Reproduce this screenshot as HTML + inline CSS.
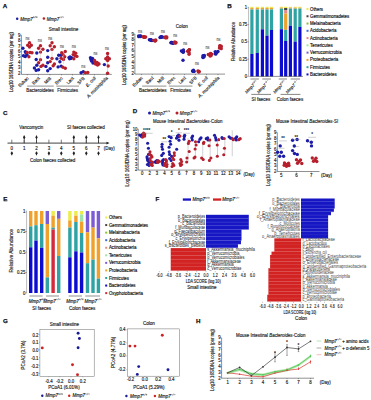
<!DOCTYPE html>
<html><head><meta charset="utf-8"><title>figure</title><style>
html,body{margin:0;padding:0;background:#fff;width:371px;height:400px;overflow:hidden}
svg{display:block}
text{font-family:"Liberation Sans",sans-serif}
</style></head><body>
<svg width="371" height="400" viewBox="0 0 371 400" font-family="Liberation Sans, sans-serif">
<rect width="371" height="400" fill="#fff"/>
<text x="2.80" y="7.60" font-size="6.2" font-weight="bold" stroke="#111" stroke-width="0.25" fill="#111">A</text>
<circle cx="17.20" cy="18.80" r="1.25" fill="#1c1ca6"/>
<g transform="translate(20.30,20.50)">
<text x="0.00" y="0.00" font-size="4.5" font-style="italic" stroke="#222" stroke-width="0.15" fill="#222">Mmp7</text>
<line x1="12.65" y1="-3.33" x2="14.27" y2="-3.33" stroke="#222" stroke-width="0.42"/>
<line x1="13.46" y1="-4.14" x2="13.46" y2="-2.52" stroke="#222" stroke-width="0.42"/>
<line x1="14.47" y1="-2.32" x2="15.44" y2="-4.44" stroke="#222" stroke-width="0.42"/>
<line x1="15.64" y1="-3.33" x2="17.26" y2="-3.33" stroke="#222" stroke-width="0.42"/>
<line x1="16.45" y1="-4.14" x2="16.45" y2="-2.52" stroke="#222" stroke-width="0.42"/>
</g>
<circle cx="43.90" cy="18.40" r="1.25" fill="#b5202c"/>
<g transform="translate(46.80,20.50)">
<text x="0.00" y="0.00" font-size="4.5" font-style="italic" stroke="#222" stroke-width="0.15" fill="#222">Mmp7</text>
<line x1="12.65" y1="-3.33" x2="14.27" y2="-3.33" stroke="#222" stroke-width="0.42"/>
<line x1="14.47" y1="-2.32" x2="15.44" y2="-4.44" stroke="#222" stroke-width="0.42"/>
<line x1="15.64" y1="-3.33" x2="17.26" y2="-3.33" stroke="#222" stroke-width="0.42"/>
</g>
<text x="63.50" y="30.60" font-size="4.55" text-anchor="middle" stroke="#222" stroke-width="0.15" fill="#222">Small intestine</text>
<text x="12.80" y="62.00" font-size="4.5" text-anchor="middle" stroke="#222" stroke-width="0.15" fill="#222" transform="rotate(-90 12.80 62.00)" textLength="59.97" lengthAdjust="spacingAndGlyphs">Log10 16S/DNA copies (per mg)</text>
<line x1="21.40" y1="35.10" x2="21.40" y2="74.40" stroke="#222" stroke-width="0.5"/>
<line x1="20.50" y1="73.10" x2="21.40" y2="73.10" stroke="#222" stroke-width="0.4"/>
<text x="20.40" y="74.65" font-size="4.5" text-anchor="end" stroke="#222" stroke-width="0.15" fill="#222" textLength="2.39" lengthAdjust="spacingAndGlyphs">2</text>
<line x1="20.50" y1="67.67" x2="21.40" y2="67.67" stroke="#222" stroke-width="0.4"/>
<text x="20.40" y="69.22" font-size="4.5" text-anchor="end" stroke="#222" stroke-width="0.15" fill="#222" textLength="2.39" lengthAdjust="spacingAndGlyphs">3</text>
<line x1="20.50" y1="62.24" x2="21.40" y2="62.24" stroke="#222" stroke-width="0.4"/>
<text x="20.40" y="63.79" font-size="4.5" text-anchor="end" stroke="#222" stroke-width="0.15" fill="#222" textLength="2.39" lengthAdjust="spacingAndGlyphs">4</text>
<line x1="20.50" y1="56.81" x2="21.40" y2="56.81" stroke="#222" stroke-width="0.4"/>
<text x="20.40" y="58.36" font-size="4.5" text-anchor="end" stroke="#222" stroke-width="0.15" fill="#222" textLength="2.39" lengthAdjust="spacingAndGlyphs">5</text>
<line x1="20.50" y1="51.39" x2="21.40" y2="51.39" stroke="#222" stroke-width="0.4"/>
<text x="20.40" y="52.94" font-size="4.5" text-anchor="end" stroke="#222" stroke-width="0.15" fill="#222" textLength="2.39" lengthAdjust="spacingAndGlyphs">6</text>
<line x1="20.50" y1="45.96" x2="21.40" y2="45.96" stroke="#222" stroke-width="0.4"/>
<text x="20.40" y="47.51" font-size="4.5" text-anchor="end" stroke="#222" stroke-width="0.15" fill="#222" textLength="2.39" lengthAdjust="spacingAndGlyphs">7</text>
<line x1="20.50" y1="40.53" x2="21.40" y2="40.53" stroke="#222" stroke-width="0.4"/>
<text x="20.40" y="42.08" font-size="4.5" text-anchor="end" stroke="#222" stroke-width="0.15" fill="#222" textLength="2.39" lengthAdjust="spacingAndGlyphs">8</text>
<line x1="20.50" y1="35.10" x2="21.40" y2="35.10" stroke="#222" stroke-width="0.4"/>
<text x="20.40" y="36.65" font-size="4.5" text-anchor="end" stroke="#222" stroke-width="0.15" fill="#222" textLength="2.39" lengthAdjust="spacingAndGlyphs">9</text>
<line x1="21.40" y1="74.40" x2="111.80" y2="74.40" stroke="#222" stroke-width="0.5"/>
<line x1="27.30" y1="74.40" x2="27.30" y2="75.40" stroke="#222" stroke-width="0.4"/>
<text x="29.00" y="78.50" font-size="4.5" text-anchor="end" stroke="#222" stroke-width="0.15" fill="#222" transform="rotate(-45 29.00 78.50)">Eubac</text>
<line x1="38.50" y1="74.40" x2="38.50" y2="75.40" stroke="#222" stroke-width="0.4"/>
<text x="40.20" y="78.50" font-size="4.5" text-anchor="end" stroke="#222" stroke-width="0.15" fill="#222" transform="rotate(-45 40.20 78.50)">Bact</text>
<line x1="50.00" y1="74.40" x2="50.00" y2="75.40" stroke="#222" stroke-width="0.4"/>
<text x="51.70" y="78.50" font-size="4.5" text-anchor="end" stroke="#222" stroke-width="0.15" fill="#222" transform="rotate(-45 51.70 78.50)">MIB</text>
<line x1="61.50" y1="74.40" x2="61.50" y2="75.40" stroke="#222" stroke-width="0.4"/>
<text x="63.20" y="78.50" font-size="4.5" text-anchor="end" stroke="#222" stroke-width="0.15" fill="#222" transform="rotate(-45 63.20 78.50)">Erec</text>
<line x1="72.50" y1="74.40" x2="72.50" y2="75.40" stroke="#222" stroke-width="0.4"/>
<text x="74.20" y="78.50" font-size="4.5" text-anchor="end" stroke="#222" stroke-width="0.15" fill="#222" transform="rotate(-45 74.20 78.50)">Lact</text>
<line x1="83.50" y1="74.40" x2="83.50" y2="75.40" stroke="#222" stroke-width="0.4"/>
<text x="85.20" y="78.50" font-size="4.5" text-anchor="end" stroke="#222" stroke-width="0.15" fill="#222" transform="rotate(-45 85.20 78.50)">SFB</text>
<line x1="94.50" y1="74.40" x2="94.50" y2="75.40" stroke="#222" stroke-width="0.4"/>
<text x="96.20" y="78.50" font-size="4.5" text-anchor="end" font-style="italic" stroke="#222" stroke-width="0.15" fill="#222" transform="rotate(-45 96.20 78.50)">E. coli</text>
<line x1="106.50" y1="74.40" x2="106.50" y2="75.40" stroke="#222" stroke-width="0.4"/>
<text x="108.20" y="78.50" font-size="4.5" text-anchor="end" font-style="italic" stroke="#222" stroke-width="0.15" fill="#222" transform="rotate(-45 108.20 78.50)">A. muciniphila</text>
<line x1="27.10" y1="86.10" x2="53.80" y2="86.10" stroke="#222" stroke-width="0.5"/>
<line x1="56.30" y1="86.10" x2="79.00" y2="86.10" stroke="#222" stroke-width="0.5"/>
<text x="40.10" y="92.30" font-size="4.5" text-anchor="middle" stroke="#222" stroke-width="0.15" fill="#222">Bacteroidetes</text>
<text x="67.60" y="92.30" font-size="4.5" text-anchor="middle" stroke="#222" stroke-width="0.15" fill="#222">Firmicutes</text>
<line x1="107.60" y1="57.00" x2="107.60" y2="73.30" stroke="#999" stroke-width="0.4"/>
<circle cx="22.90" cy="48.20" r="1.7" fill="#1c1ca6"/>
<circle cx="25.30" cy="51.80" r="1.7" fill="#1c1ca6"/>
<circle cx="23.50" cy="55.70" r="1.7" fill="#1c1ca6"/>
<circle cx="25.30" cy="56.50" r="1.7" fill="#1c1ca6"/>
<circle cx="27.10" cy="55.00" r="1.7" fill="#1c1ca6"/>
<circle cx="26.00" cy="53.00" r="1.7" fill="#1c1ca6"/>
<circle cx="36.80" cy="53.00" r="1.7" fill="#1c1ca6"/>
<circle cx="36.20" cy="59.50" r="1.7" fill="#1c1ca6"/>
<circle cx="36.80" cy="65.20" r="1.7" fill="#1c1ca6"/>
<circle cx="34.40" cy="68.00" r="1.7" fill="#1c1ca6"/>
<circle cx="36.20" cy="70.40" r="1.7" fill="#1c1ca6"/>
<circle cx="38.60" cy="69.80" r="1.7" fill="#1c1ca6"/>
<circle cx="47.70" cy="50.60" r="1.7" fill="#1c1ca6"/>
<circle cx="47.70" cy="57.30" r="1.7" fill="#1c1ca6"/>
<circle cx="47.70" cy="62.80" r="1.7" fill="#1c1ca6"/>
<circle cx="45.90" cy="66.40" r="1.7" fill="#1c1ca6"/>
<circle cx="50.20" cy="68.60" r="1.7" fill="#1c1ca6"/>
<circle cx="47.70" cy="70.70" r="1.7" fill="#1c1ca6"/>
<circle cx="58.70" cy="55.20" r="1.7" fill="#1c1ca6"/>
<circle cx="61.10" cy="55.20" r="1.7" fill="#1c1ca6"/>
<circle cx="56.90" cy="58.80" r="1.7" fill="#1c1ca6"/>
<circle cx="59.90" cy="61.80" r="1.7" fill="#1c1ca6"/>
<circle cx="58.10" cy="66.90" r="1.7" fill="#1c1ca6"/>
<circle cx="61.10" cy="66.10" r="1.7" fill="#1c1ca6"/>
<circle cx="69.00" cy="57.60" r="1.7" fill="#1c1ca6"/>
<circle cx="70.80" cy="58.40" r="1.7" fill="#1c1ca6"/>
<circle cx="69.60" cy="58.80" r="1.7" fill="#1c1ca6"/>
<circle cx="71.50" cy="57.80" r="1.7" fill="#1c1ca6"/>
<circle cx="70.00" cy="57.00" r="1.7" fill="#1c1ca6"/>
<circle cx="81.10" cy="72.80" r="1.7" fill="#1c1ca6"/>
<circle cx="83.30" cy="71.80" r="1.7" fill="#1c1ca6"/>
<circle cx="91.00" cy="59.50" r="1.7" fill="#1c1ca6"/>
<circle cx="92.50" cy="58.50" r="1.7" fill="#1c1ca6"/>
<circle cx="91.50" cy="61.00" r="1.7" fill="#1c1ca6"/>
<circle cx="93.50" cy="61.50" r="1.7" fill="#1c1ca6"/>
<circle cx="92.00" cy="60.50" r="1.7" fill="#1c1ca6"/>
<circle cx="90.50" cy="57.80" r="1.7" fill="#1c1ca6"/>
<circle cx="93.00" cy="63.00" r="1.7" fill="#1c1ca6"/>
<circle cx="104.40" cy="64.60" r="1.7" fill="#1c1ca6"/>
<circle cx="29.50" cy="42.70" r="1.7" fill="#b5202c"/>
<circle cx="27.70" cy="45.20" r="1.7" fill="#b5202c"/>
<circle cx="31.30" cy="45.20" r="1.7" fill="#b5202c"/>
<circle cx="29.50" cy="47.00" r="1.7" fill="#b5202c"/>
<circle cx="30.10" cy="52.50" r="1.7" fill="#b5202c"/>
<circle cx="27.10" cy="52.50" r="1.7" fill="#b5202c"/>
<circle cx="28.90" cy="56.70" r="1.7" fill="#b5202c"/>
<circle cx="32.00" cy="52.80" r="1.7" fill="#b5202c"/>
<circle cx="40.50" cy="45.80" r="1.7" fill="#b5202c"/>
<circle cx="38.60" cy="48.20" r="1.7" fill="#b5202c"/>
<circle cx="42.90" cy="49.20" r="1.7" fill="#b5202c"/>
<circle cx="40.50" cy="52.10" r="1.7" fill="#b5202c"/>
<circle cx="40.50" cy="59.70" r="1.7" fill="#b5202c"/>
<circle cx="38.60" cy="62.80" r="1.7" fill="#b5202c"/>
<circle cx="41.00" cy="66.40" r="1.7" fill="#b5202c"/>
<circle cx="42.90" cy="65.20" r="1.7" fill="#b5202c"/>
<circle cx="52.00" cy="42.70" r="1.7" fill="#b5202c"/>
<circle cx="50.20" cy="45.80" r="1.7" fill="#b5202c"/>
<circle cx="54.40" cy="46.70" r="1.7" fill="#b5202c"/>
<circle cx="52.00" cy="49.40" r="1.7" fill="#b5202c"/>
<circle cx="52.00" cy="58.50" r="1.7" fill="#b5202c"/>
<circle cx="50.20" cy="61.60" r="1.7" fill="#b5202c"/>
<circle cx="54.40" cy="64.00" r="1.7" fill="#b5202c"/>
<circle cx="53.20" cy="65.80" r="1.7" fill="#b5202c"/>
<circle cx="65.30" cy="51.50" r="1.7" fill="#b5202c"/>
<circle cx="62.90" cy="54.30" r="1.7" fill="#b5202c"/>
<circle cx="64.70" cy="56.70" r="1.7" fill="#b5202c"/>
<circle cx="61.10" cy="58.20" r="1.7" fill="#b5202c"/>
<circle cx="63.50" cy="59.40" r="1.7" fill="#b5202c"/>
<circle cx="62.90" cy="67.30" r="1.7" fill="#b5202c"/>
<circle cx="65.30" cy="68.20" r="1.7" fill="#b5202c"/>
<circle cx="61.70" cy="52.70" r="1.7" fill="#b5202c"/>
<circle cx="73.80" cy="52.10" r="1.7" fill="#b5202c"/>
<circle cx="75.70" cy="53.30" r="1.7" fill="#b5202c"/>
<circle cx="73.20" cy="54.60" r="1.7" fill="#b5202c"/>
<circle cx="76.90" cy="56.40" r="1.7" fill="#b5202c"/>
<circle cx="75.00" cy="55.80" r="1.7" fill="#b5202c"/>
<circle cx="73.80" cy="58.80" r="1.7" fill="#b5202c"/>
<circle cx="85.40" cy="72.80" r="1.7" fill="#b5202c"/>
<circle cx="87.80" cy="72.50" r="1.7" fill="#b5202c"/>
<circle cx="95.00" cy="62.00" r="1.7" fill="#b5202c"/>
<circle cx="96.50" cy="63.00" r="1.7" fill="#b5202c"/>
<circle cx="98.00" cy="63.50" r="1.7" fill="#b5202c"/>
<circle cx="95.50" cy="64.00" r="1.7" fill="#b5202c"/>
<circle cx="97.00" cy="62.50" r="1.7" fill="#b5202c"/>
<circle cx="99.00" cy="64.00" r="1.7" fill="#b5202c"/>
<circle cx="94.50" cy="60.50" r="1.7" fill="#b5202c"/>
<circle cx="97.50" cy="65.00" r="1.7" fill="#b5202c"/>
<circle cx="107.60" cy="53.50" r="1.7" fill="#b5202c"/>
<circle cx="107.60" cy="57.00" r="1.7" fill="#b5202c"/>
<circle cx="105.80" cy="58.80" r="1.7" fill="#b5202c"/>
<circle cx="109.40" cy="58.80" r="1.7" fill="#b5202c"/>
<circle cx="107.60" cy="60.50" r="1.7" fill="#b5202c"/>
<circle cx="108.20" cy="66.00" r="1.7" fill="#b5202c"/>
<circle cx="107.60" cy="73.30" r="1.7" fill="#b5202c"/>
<line x1="40.30" y1="47.00" x2="40.30" y2="61.00" stroke="#c9a0a8" stroke-width="0.35"/>
<line x1="52.00" y1="45.00" x2="52.00" y2="60.00" stroke="#c9a0a8" stroke-width="0.35"/>
<line x1="63.50" y1="53.00" x2="63.50" y2="64.00" stroke="#c9a0a8" stroke-width="0.35"/>
<text x="27.50" y="39.80" font-size="4.5" text-anchor="middle" stroke="#666" stroke-width="0.15" fill="#666" textLength="4.01" lengthAdjust="spacingAndGlyphs">ns</text>
<text x="39.80" y="42.30" font-size="4.5" text-anchor="middle" stroke="#666" stroke-width="0.15" fill="#666" textLength="4.01" lengthAdjust="spacingAndGlyphs">ns</text>
<text x="50.20" y="40.00" font-size="4.5" text-anchor="middle" stroke="#666" stroke-width="0.15" fill="#666" textLength="4.01" lengthAdjust="spacingAndGlyphs">ns</text>
<text x="62.00" y="48.30" font-size="4.5" text-anchor="middle" stroke="#666" stroke-width="0.15" fill="#666" textLength="4.01" lengthAdjust="spacingAndGlyphs">ns</text>
<text x="73.80" y="48.30" font-size="4.5" text-anchor="middle" stroke="#666" stroke-width="0.15" fill="#666" textLength="4.01" lengthAdjust="spacingAndGlyphs">ns</text>
<text x="83.30" y="67.50" font-size="4.5" text-anchor="middle" stroke="#666" stroke-width="0.15" fill="#666" textLength="4.01" lengthAdjust="spacingAndGlyphs">ns</text>
<text x="95.50" y="55.00" font-size="4.5" text-anchor="middle" stroke="#666" stroke-width="0.15" fill="#666" textLength="4.01" lengthAdjust="spacingAndGlyphs">ns</text>
<text x="107.00" y="50.00" font-size="4.5" text-anchor="middle" stroke="#666" stroke-width="0.15" fill="#666" textLength="4.01" lengthAdjust="spacingAndGlyphs">ns</text>
<line x1="134.90" y1="34.00" x2="134.90" y2="74.10" stroke="#222" stroke-width="0.5"/>
<line x1="134.00" y1="73.40" x2="134.90" y2="73.40" stroke="#222" stroke-width="0.4"/>
<text x="133.90" y="74.95" font-size="4.5" text-anchor="end" stroke="#222" stroke-width="0.15" fill="#222" textLength="2.39" lengthAdjust="spacingAndGlyphs">2</text>
<line x1="134.00" y1="67.77" x2="134.90" y2="67.77" stroke="#222" stroke-width="0.4"/>
<text x="133.90" y="69.32" font-size="4.5" text-anchor="end" stroke="#222" stroke-width="0.15" fill="#222" textLength="2.39" lengthAdjust="spacingAndGlyphs">3</text>
<line x1="134.00" y1="62.14" x2="134.90" y2="62.14" stroke="#222" stroke-width="0.4"/>
<text x="133.90" y="63.69" font-size="4.5" text-anchor="end" stroke="#222" stroke-width="0.15" fill="#222" textLength="2.39" lengthAdjust="spacingAndGlyphs">4</text>
<line x1="134.00" y1="56.51" x2="134.90" y2="56.51" stroke="#222" stroke-width="0.4"/>
<text x="133.90" y="58.06" font-size="4.5" text-anchor="end" stroke="#222" stroke-width="0.15" fill="#222" textLength="2.39" lengthAdjust="spacingAndGlyphs">5</text>
<line x1="134.00" y1="50.89" x2="134.90" y2="50.89" stroke="#222" stroke-width="0.4"/>
<text x="133.90" y="52.44" font-size="4.5" text-anchor="end" stroke="#222" stroke-width="0.15" fill="#222" textLength="2.39" lengthAdjust="spacingAndGlyphs">6</text>
<line x1="134.00" y1="45.26" x2="134.90" y2="45.26" stroke="#222" stroke-width="0.4"/>
<text x="133.90" y="46.81" font-size="4.5" text-anchor="end" stroke="#222" stroke-width="0.15" fill="#222" textLength="2.39" lengthAdjust="spacingAndGlyphs">7</text>
<line x1="134.00" y1="39.63" x2="134.90" y2="39.63" stroke="#222" stroke-width="0.4"/>
<text x="133.90" y="41.18" font-size="4.5" text-anchor="end" stroke="#222" stroke-width="0.15" fill="#222" textLength="2.39" lengthAdjust="spacingAndGlyphs">8</text>
<line x1="134.00" y1="34.00" x2="134.90" y2="34.00" stroke="#222" stroke-width="0.4"/>
<text x="133.90" y="35.55" font-size="4.5" text-anchor="end" stroke="#222" stroke-width="0.15" fill="#222" textLength="2.39" lengthAdjust="spacingAndGlyphs">9</text>
<text x="125.80" y="55.00" font-size="4.5" text-anchor="middle" stroke="#222" stroke-width="0.15" fill="#222" transform="rotate(-90 125.80 55.00)" textLength="59.97" lengthAdjust="spacingAndGlyphs">Log10 16S/DNA copies (per mg)</text>
<text x="181.80" y="27.70" font-size="4.6" text-anchor="middle" stroke="#222" stroke-width="0.15" fill="#222">Colon</text>
<line x1="134.90" y1="74.10" x2="225.00" y2="74.10" stroke="#222" stroke-width="0.5"/>
<line x1="141.50" y1="74.10" x2="141.50" y2="75.10" stroke="#222" stroke-width="0.4"/>
<text x="143.20" y="78.20" font-size="4.5" text-anchor="end" stroke="#222" stroke-width="0.15" fill="#222" transform="rotate(-45 143.20 78.20)">Eubac</text>
<line x1="152.30" y1="74.10" x2="152.30" y2="75.10" stroke="#222" stroke-width="0.4"/>
<text x="154.00" y="78.20" font-size="4.5" text-anchor="end" stroke="#222" stroke-width="0.15" fill="#222" transform="rotate(-45 154.00 78.20)">Bact</text>
<line x1="163.00" y1="74.10" x2="163.00" y2="75.10" stroke="#222" stroke-width="0.4"/>
<text x="164.70" y="78.20" font-size="4.5" text-anchor="end" stroke="#222" stroke-width="0.15" fill="#222" transform="rotate(-45 164.70 78.20)">MIB</text>
<line x1="173.80" y1="74.10" x2="173.80" y2="75.10" stroke="#222" stroke-width="0.4"/>
<text x="175.50" y="78.20" font-size="4.5" text-anchor="end" stroke="#222" stroke-width="0.15" fill="#222" transform="rotate(-45 175.50 78.20)">Erec</text>
<line x1="184.50" y1="74.10" x2="184.50" y2="75.10" stroke="#222" stroke-width="0.4"/>
<text x="186.20" y="78.20" font-size="4.5" text-anchor="end" stroke="#222" stroke-width="0.15" fill="#222" transform="rotate(-45 186.20 78.20)">Lact</text>
<line x1="195.50" y1="74.10" x2="195.50" y2="75.10" stroke="#222" stroke-width="0.4"/>
<text x="197.20" y="78.20" font-size="4.5" text-anchor="end" stroke="#222" stroke-width="0.15" fill="#222" transform="rotate(-45 197.20 78.20)">SFB</text>
<line x1="206.50" y1="74.10" x2="206.50" y2="75.10" stroke="#222" stroke-width="0.4"/>
<text x="208.20" y="78.20" font-size="4.5" text-anchor="end" font-style="italic" stroke="#222" stroke-width="0.15" fill="#222" transform="rotate(-45 208.20 78.20)">E. coli</text>
<line x1="218.00" y1="74.10" x2="218.00" y2="75.10" stroke="#222" stroke-width="0.4"/>
<text x="219.70" y="78.20" font-size="4.5" text-anchor="end" font-style="italic" stroke="#222" stroke-width="0.15" fill="#222" transform="rotate(-45 219.70 78.20)">A. muciniphila</text>
<line x1="142.10" y1="86.10" x2="166.40" y2="86.10" stroke="#222" stroke-width="0.5"/>
<line x1="168.80" y1="86.10" x2="192.40" y2="86.10" stroke="#222" stroke-width="0.5"/>
<text x="152.70" y="92.30" font-size="4.5" text-anchor="middle" stroke="#222" stroke-width="0.15" fill="#222">Bacteroidetes</text>
<text x="180.60" y="92.30" font-size="4.5" text-anchor="middle" stroke="#222" stroke-width="0.15" fill="#222">Firmicutes</text>
<circle cx="138.78" cy="36.65" r="1.7" fill="#1c1ca6"/>
<circle cx="140.54" cy="36.06" r="1.7" fill="#1c1ca6"/>
<circle cx="139.79" cy="36.25" r="1.7" fill="#1c1ca6"/>
<circle cx="140.22" cy="36.59" r="1.7" fill="#1c1ca6"/>
<circle cx="138.66" cy="35.83" r="1.7" fill="#1c1ca6"/>
<circle cx="140.74" cy="36.23" r="1.7" fill="#1c1ca6"/>
<circle cx="151.88" cy="40.55" r="1.7" fill="#1c1ca6"/>
<circle cx="149.36" cy="39.68" r="1.7" fill="#1c1ca6"/>
<circle cx="151.54" cy="40.34" r="1.7" fill="#1c1ca6"/>
<circle cx="151.08" cy="39.91" r="1.7" fill="#1c1ca6"/>
<circle cx="150.90" cy="40.21" r="1.7" fill="#1c1ca6"/>
<circle cx="150.83" cy="39.76" r="1.7" fill="#1c1ca6"/>
<circle cx="160.67" cy="37.24" r="1.7" fill="#1c1ca6"/>
<circle cx="161.04" cy="37.30" r="1.7" fill="#1c1ca6"/>
<circle cx="161.75" cy="36.77" r="1.7" fill="#1c1ca6"/>
<circle cx="160.04" cy="37.54" r="1.7" fill="#1c1ca6"/>
<circle cx="160.73" cy="36.93" r="1.7" fill="#1c1ca6"/>
<circle cx="162.79" cy="37.17" r="1.7" fill="#1c1ca6"/>
<circle cx="171.31" cy="42.44" r="1.7" fill="#1c1ca6"/>
<circle cx="171.73" cy="42.52" r="1.7" fill="#1c1ca6"/>
<circle cx="170.87" cy="42.86" r="1.7" fill="#1c1ca6"/>
<circle cx="173.09" cy="43.42" r="1.7" fill="#1c1ca6"/>
<circle cx="172.69" cy="42.61" r="1.7" fill="#1c1ca6"/>
<circle cx="172.10" cy="42.69" r="1.7" fill="#1c1ca6"/>
<circle cx="182.79" cy="51.63" r="1.7" fill="#1c1ca6"/>
<circle cx="183.21" cy="52.15" r="1.7" fill="#1c1ca6"/>
<circle cx="183.08" cy="52.10" r="1.7" fill="#1c1ca6"/>
<circle cx="181.37" cy="50.91" r="1.7" fill="#1c1ca6"/>
<circle cx="183.56" cy="51.39" r="1.7" fill="#1c1ca6"/>
<circle cx="183.46" cy="49.99" r="1.7" fill="#1c1ca6"/>
<circle cx="183.00" cy="60.20" r="1.7" fill="#1c1ca6"/>
<circle cx="194.09" cy="71.41" r="1.7" fill="#1c1ca6"/>
<circle cx="193.47" cy="70.18" r="1.7" fill="#1c1ca6"/>
<circle cx="192.50" cy="71.06" r="1.7" fill="#1c1ca6"/>
<circle cx="193.44" cy="71.27" r="1.7" fill="#1c1ca6"/>
<circle cx="193.25" cy="71.29" r="1.7" fill="#1c1ca6"/>
<circle cx="203.61" cy="55.86" r="1.7" fill="#1c1ca6"/>
<circle cx="204.33" cy="55.52" r="1.7" fill="#1c1ca6"/>
<circle cx="204.08" cy="56.81" r="1.7" fill="#1c1ca6"/>
<circle cx="203.03" cy="57.43" r="1.7" fill="#1c1ca6"/>
<circle cx="202.98" cy="57.11" r="1.7" fill="#1c1ca6"/>
<circle cx="203.05" cy="55.60" r="1.7" fill="#1c1ca6"/>
<circle cx="215.68" cy="54.16" r="1.7" fill="#1c1ca6"/>
<circle cx="215.38" cy="53.24" r="1.7" fill="#1c1ca6"/>
<circle cx="215.26" cy="51.59" r="1.7" fill="#1c1ca6"/>
<circle cx="218.00" cy="51.45" r="1.7" fill="#1c1ca6"/>
<circle cx="216.93" cy="52.35" r="1.7" fill="#1c1ca6"/>
<circle cx="216.36" cy="52.48" r="1.7" fill="#1c1ca6"/>
<circle cx="144.27" cy="37.07" r="1.7" fill="#b5202c"/>
<circle cx="145.59" cy="36.96" r="1.7" fill="#b5202c"/>
<circle cx="144.42" cy="37.10" r="1.7" fill="#b5202c"/>
<circle cx="143.52" cy="37.01" r="1.7" fill="#b5202c"/>
<circle cx="144.76" cy="37.35" r="1.7" fill="#b5202c"/>
<circle cx="143.26" cy="36.76" r="1.7" fill="#b5202c"/>
<circle cx="155.13" cy="40.69" r="1.7" fill="#b5202c"/>
<circle cx="155.67" cy="40.07" r="1.7" fill="#b5202c"/>
<circle cx="153.83" cy="40.35" r="1.7" fill="#b5202c"/>
<circle cx="154.57" cy="40.87" r="1.7" fill="#b5202c"/>
<circle cx="155.73" cy="40.62" r="1.7" fill="#b5202c"/>
<circle cx="155.36" cy="40.69" r="1.7" fill="#b5202c"/>
<circle cx="165.43" cy="37.72" r="1.7" fill="#b5202c"/>
<circle cx="166.62" cy="37.92" r="1.7" fill="#b5202c"/>
<circle cx="165.22" cy="37.18" r="1.7" fill="#b5202c"/>
<circle cx="165.11" cy="37.17" r="1.7" fill="#b5202c"/>
<circle cx="166.76" cy="37.06" r="1.7" fill="#b5202c"/>
<circle cx="166.19" cy="37.16" r="1.7" fill="#b5202c"/>
<circle cx="174.28" cy="42.62" r="1.7" fill="#b5202c"/>
<circle cx="175.70" cy="43.00" r="1.7" fill="#b5202c"/>
<circle cx="174.70" cy="41.91" r="1.7" fill="#b5202c"/>
<circle cx="175.91" cy="42.55" r="1.7" fill="#b5202c"/>
<circle cx="174.79" cy="42.59" r="1.7" fill="#b5202c"/>
<circle cx="175.03" cy="42.74" r="1.7" fill="#b5202c"/>
<circle cx="189.32" cy="49.75" r="1.7" fill="#b5202c"/>
<circle cx="188.77" cy="50.43" r="1.7" fill="#b5202c"/>
<circle cx="189.37" cy="49.78" r="1.7" fill="#b5202c"/>
<circle cx="189.11" cy="52.83" r="1.7" fill="#b5202c"/>
<circle cx="189.06" cy="54.30" r="1.7" fill="#b5202c"/>
<circle cx="187.58" cy="51.26" r="1.7" fill="#b5202c"/>
<circle cx="188.70" cy="50.99" r="1.7" fill="#b5202c"/>
<circle cx="198.84" cy="71.45" r="1.7" fill="#b5202c"/>
<circle cx="198.98" cy="71.36" r="1.7" fill="#b5202c"/>
<circle cx="198.96" cy="71.91" r="1.7" fill="#b5202c"/>
<circle cx="198.57" cy="71.85" r="1.7" fill="#b5202c"/>
<circle cx="197.93" cy="70.99" r="1.7" fill="#b5202c"/>
<circle cx="210.08" cy="56.00" r="1.7" fill="#b5202c"/>
<circle cx="211.66" cy="54.14" r="1.7" fill="#b5202c"/>
<circle cx="210.96" cy="55.64" r="1.7" fill="#b5202c"/>
<circle cx="210.58" cy="53.50" r="1.7" fill="#b5202c"/>
<circle cx="208.30" cy="54.48" r="1.7" fill="#b5202c"/>
<circle cx="210.89" cy="54.01" r="1.7" fill="#b5202c"/>
<circle cx="210.01" cy="54.24" r="1.7" fill="#b5202c"/>
<circle cx="219.45" cy="48.01" r="1.7" fill="#b5202c"/>
<circle cx="220.00" cy="45.69" r="1.7" fill="#b5202c"/>
<circle cx="220.56" cy="47.17" r="1.7" fill="#b5202c"/>
<circle cx="220.53" cy="46.99" r="1.7" fill="#b5202c"/>
<circle cx="219.75" cy="45.97" r="1.7" fill="#b5202c"/>
<circle cx="221.29" cy="46.32" r="1.7" fill="#b5202c"/>
<circle cx="221.23" cy="48.64" r="1.7" fill="#b5202c"/>
<text x="140.10" y="32.90" font-size="4.5" text-anchor="middle" stroke="#666" stroke-width="0.15" fill="#666" textLength="4.01" lengthAdjust="spacingAndGlyphs">ns</text>
<text x="151.90" y="35.40" font-size="4.5" text-anchor="middle" stroke="#666" stroke-width="0.15" fill="#666" textLength="4.01" lengthAdjust="spacingAndGlyphs">ns</text>
<text x="162.90" y="32.90" font-size="4.5" text-anchor="middle" stroke="#666" stroke-width="0.15" fill="#666" textLength="4.01" lengthAdjust="spacingAndGlyphs">ns</text>
<text x="175.20" y="36.80" font-size="4.5" text-anchor="middle" stroke="#666" stroke-width="0.15" fill="#666" textLength="4.01" lengthAdjust="spacingAndGlyphs">ns</text>
<text x="185.20" y="45.30" font-size="4.5" text-anchor="middle" stroke="#666" stroke-width="0.15" fill="#666" textLength="4.01" lengthAdjust="spacingAndGlyphs">ns</text>
<text x="196.90" y="65.30" font-size="4.5" text-anchor="middle" stroke="#666" stroke-width="0.15" fill="#666" textLength="4.01" lengthAdjust="spacingAndGlyphs">ns</text>
<text x="207.50" y="49.30" font-size="4.5" text-anchor="middle" stroke="#666" stroke-width="0.15" fill="#666" textLength="4.01" lengthAdjust="spacingAndGlyphs">ns</text>
<text x="218.50" y="41.00" font-size="4.5" text-anchor="middle" stroke="#666" stroke-width="0.15" fill="#666" textLength="4.01" lengthAdjust="spacingAndGlyphs">ns</text>
<text x="227.20" y="7.50" font-size="6.2" font-weight="bold" stroke="#111" stroke-width="0.25" fill="#111">B</text>
<text x="235.20" y="41.50" font-size="4.5" text-anchor="middle" stroke="#222" stroke-width="0.15" fill="#222" transform="rotate(-90 235.20 41.50)" textLength="39.02" lengthAdjust="spacingAndGlyphs">Relative Abundance</text>
<line x1="248.60" y1="7.30" x2="248.60" y2="76.40" stroke="#555" stroke-width="0.4"/>
<line x1="247.60" y1="7.30" x2="248.60" y2="7.30" stroke="#222" stroke-width="0.45"/>
<text x="247.20" y="8.85" font-size="4.5" text-anchor="end" stroke="#222" stroke-width="0.15" fill="#222" textLength="2.34" lengthAdjust="spacingAndGlyphs">1</text>
<line x1="247.60" y1="24.58" x2="248.60" y2="24.58" stroke="#222" stroke-width="0.45"/>
<text x="247.20" y="26.13" font-size="4.5" text-anchor="end" stroke="#222" stroke-width="0.15" fill="#222" textLength="8.17" lengthAdjust="spacingAndGlyphs">0.75</text>
<line x1="247.60" y1="41.85" x2="248.60" y2="41.85" stroke="#222" stroke-width="0.45"/>
<text x="247.20" y="43.40" font-size="4.5" text-anchor="end" stroke="#222" stroke-width="0.15" fill="#222" textLength="5.84" lengthAdjust="spacingAndGlyphs">0.5</text>
<line x1="247.60" y1="59.12" x2="248.60" y2="59.12" stroke="#222" stroke-width="0.45"/>
<text x="247.20" y="60.67" font-size="4.5" text-anchor="end" stroke="#222" stroke-width="0.15" fill="#222" textLength="8.17" lengthAdjust="spacingAndGlyphs">0.25</text>
<line x1="247.60" y1="76.40" x2="248.60" y2="76.40" stroke="#222" stroke-width="0.45"/>
<text x="247.20" y="77.95" font-size="4.5" text-anchor="end" stroke="#222" stroke-width="0.15" fill="#222" textLength="2.34" lengthAdjust="spacingAndGlyphs">0</text>
<rect x="250.30" y="6.80" width="3.20" height="1.10" fill="#ecec4a"/>
<rect x="250.30" y="7.90" width="3.20" height="1.60" fill="#f0a12c"/>
<rect x="250.30" y="9.50" width="3.20" height="44.50" fill="#2fa3a3"/>
<rect x="250.30" y="54.00" width="3.20" height="22.40" fill="#0c0cd0"/>
<rect x="255.70" y="6.80" width="3.20" height="1.10" fill="#ecec4a"/>
<rect x="255.70" y="7.90" width="3.20" height="1.60" fill="#f0a12c"/>
<rect x="255.70" y="9.50" width="3.20" height="43.50" fill="#2fa3a3"/>
<rect x="255.70" y="53.00" width="3.20" height="23.40" fill="#0c0cd0"/>
<rect x="260.80" y="6.80" width="3.20" height="1.10" fill="#ecec4a"/>
<rect x="260.80" y="7.90" width="3.20" height="1.60" fill="#f0a12c"/>
<rect x="260.80" y="9.50" width="3.20" height="19.80" fill="#2fa3a3"/>
<rect x="260.80" y="29.30" width="3.20" height="47.10" fill="#0c0cd0"/>
<rect x="265.40" y="6.80" width="3.20" height="1.10" fill="#ecec4a"/>
<rect x="265.40" y="7.90" width="3.20" height="1.60" fill="#f0a12c"/>
<rect x="265.40" y="9.50" width="3.20" height="26.10" fill="#2fa3a3"/>
<rect x="265.40" y="35.60" width="3.20" height="40.80" fill="#0c0cd0"/>
<rect x="269.90" y="6.80" width="3.20" height="1.10" fill="#ecec4a"/>
<rect x="269.90" y="7.90" width="3.20" height="1.60" fill="#f0a12c"/>
<rect x="269.90" y="9.50" width="3.20" height="20.50" fill="#2fa3a3"/>
<rect x="269.90" y="30.00" width="3.20" height="46.40" fill="#0c0cd0"/>
<rect x="279.80" y="6.80" width="3.20" height="0.80" fill="#ecec4a"/>
<rect x="279.80" y="7.60" width="3.20" height="1.00" fill="#f0a12c"/>
<rect x="279.80" y="8.60" width="3.20" height="20.60" fill="#2fa3a3"/>
<rect x="279.80" y="29.20" width="3.20" height="47.20" fill="#0c0cd0"/>
<rect x="284.10" y="6.80" width="3.20" height="1.20" fill="#ecec4a"/>
<rect x="284.10" y="8.00" width="3.20" height="2.10" fill="#444444"/>
<rect x="284.10" y="10.10" width="3.20" height="3.40" fill="#e38a8a"/>
<rect x="284.10" y="13.50" width="3.20" height="16.30" fill="#f0a12c"/>
<rect x="284.10" y="29.80" width="3.20" height="11.20" fill="#2fa3a3"/>
<rect x="284.10" y="41.00" width="3.20" height="35.40" fill="#0c0cd0"/>
<rect x="288.80" y="6.80" width="3.20" height="0.80" fill="#ecec4a"/>
<rect x="288.80" y="7.60" width="3.20" height="1.00" fill="#f0a12c"/>
<rect x="288.80" y="8.60" width="3.20" height="17.20" fill="#2fa3a3"/>
<rect x="288.80" y="25.80" width="3.20" height="50.60" fill="#0c0cd0"/>
<rect x="293.60" y="6.80" width="3.20" height="0.80" fill="#ecec4a"/>
<rect x="293.60" y="7.60" width="3.20" height="1.00" fill="#f0a12c"/>
<rect x="293.60" y="8.60" width="3.20" height="33.00" fill="#2fa3a3"/>
<rect x="293.60" y="41.60" width="3.20" height="34.80" fill="#0c0cd0"/>
<rect x="298.30" y="6.80" width="3.20" height="0.80" fill="#ecec4a"/>
<rect x="298.30" y="7.60" width="3.20" height="1.00" fill="#f0a12c"/>
<rect x="298.30" y="8.60" width="3.20" height="18.40" fill="#2fa3a3"/>
<rect x="298.30" y="27.00" width="3.20" height="49.40" fill="#0c0cd0"/>
<line x1="249.50" y1="76.40" x2="303.00" y2="76.40" stroke="#222" stroke-width="0.5"/>
<line x1="250.40" y1="79.00" x2="258.90" y2="79.00" stroke="#222" stroke-width="0.55"/>
<line x1="262.30" y1="79.00" x2="271.00" y2="79.00" stroke="#222" stroke-width="0.55"/>
<line x1="278.70" y1="79.00" x2="287.00" y2="79.00" stroke="#222" stroke-width="0.55"/>
<line x1="290.60" y1="79.00" x2="300.00" y2="79.00" stroke="#222" stroke-width="0.55"/>
<g transform="translate(257.30,83.20) rotate(-45)">
<text x="-14.88" y="0.00" font-size="4.5" font-style="italic" stroke="#222" stroke-width="0.15" fill="#222" textLength="11.39" lengthAdjust="spacingAndGlyphs">Mmp7</text>
<line x1="-3.33" y1="-3.03" x2="-1.86" y2="-3.03" stroke="#222" stroke-width="0.42"/>
<line x1="-2.60" y1="-3.77" x2="-2.60" y2="-2.30" stroke="#222" stroke-width="0.42"/>
<line x1="-1.66" y1="-2.10" x2="-0.77" y2="-4.07" stroke="#222" stroke-width="0.42"/>
<line x1="-0.57" y1="-3.03" x2="0.90" y2="-3.03" stroke="#222" stroke-width="0.42"/>
<line x1="0.16" y1="-3.77" x2="0.16" y2="-2.30" stroke="#222" stroke-width="0.42"/>
</g>
<g transform="translate(269.20,83.20) rotate(-45)">
<text x="-14.88" y="0.00" font-size="4.5" font-style="italic" stroke="#222" stroke-width="0.15" fill="#222" textLength="11.39" lengthAdjust="spacingAndGlyphs">Mmp7</text>
<line x1="-3.33" y1="-3.03" x2="-1.86" y2="-3.03" stroke="#222" stroke-width="0.42"/>
<line x1="-1.66" y1="-2.10" x2="-0.77" y2="-4.07" stroke="#222" stroke-width="0.42"/>
<line x1="-0.57" y1="-3.03" x2="0.90" y2="-3.03" stroke="#222" stroke-width="0.42"/>
</g>
<g transform="translate(285.40,83.20) rotate(-45)">
<text x="-14.88" y="0.00" font-size="4.5" font-style="italic" stroke="#222" stroke-width="0.15" fill="#222" textLength="11.39" lengthAdjust="spacingAndGlyphs">Mmp7</text>
<line x1="-3.33" y1="-3.03" x2="-1.86" y2="-3.03" stroke="#222" stroke-width="0.42"/>
<line x1="-2.60" y1="-3.77" x2="-2.60" y2="-2.30" stroke="#222" stroke-width="0.42"/>
<line x1="-1.66" y1="-2.10" x2="-0.77" y2="-4.07" stroke="#222" stroke-width="0.42"/>
<line x1="-0.57" y1="-3.03" x2="0.90" y2="-3.03" stroke="#222" stroke-width="0.42"/>
<line x1="0.16" y1="-3.77" x2="0.16" y2="-2.30" stroke="#222" stroke-width="0.42"/>
</g>
<g transform="translate(298.00,83.20) rotate(-45)">
<text x="-14.88" y="0.00" font-size="4.5" font-style="italic" stroke="#222" stroke-width="0.15" fill="#222" textLength="11.39" lengthAdjust="spacingAndGlyphs">Mmp7</text>
<line x1="-3.33" y1="-3.03" x2="-1.86" y2="-3.03" stroke="#222" stroke-width="0.42"/>
<line x1="-1.66" y1="-2.10" x2="-0.77" y2="-4.07" stroke="#222" stroke-width="0.42"/>
<line x1="-0.57" y1="-3.03" x2="0.90" y2="-3.03" stroke="#222" stroke-width="0.42"/>
</g>
<line x1="251.30" y1="94.40" x2="271.10" y2="94.40" stroke="#222" stroke-width="0.55"/>
<line x1="280.60" y1="94.40" x2="300.40" y2="94.40" stroke="#222" stroke-width="0.55"/>
<text x="260.80" y="101.40" font-size="4.5" text-anchor="middle" stroke="#222" stroke-width="0.15" fill="#222">SI faeces</text>
<text x="290.00" y="101.40" font-size="4.5" text-anchor="middle" stroke="#222" stroke-width="0.15" fill="#222">Colon faeces</text>
<rect x="306.50" y="8.00" width="2.00" height="2.00" fill="#ecec4a"/>
<text x="310.00" y="10.60" font-size="4.5" stroke="#111" stroke-width="0.15" fill="#111" textLength="13.05" lengthAdjust="spacingAndGlyphs">Others</text>
<rect x="306.50" y="15.27" width="2.00" height="2.00" fill="#444444"/>
<text x="310.00" y="17.87" font-size="4.5" stroke="#111" stroke-width="0.15" fill="#111" textLength="39.17" lengthAdjust="spacingAndGlyphs">Gemmatimonadetes</text>
<rect x="306.50" y="22.54" width="2.00" height="2.00" fill="#86c23a"/>
<text x="310.00" y="25.14" font-size="4.5" stroke="#111" stroke-width="0.15" fill="#111" textLength="30.71" lengthAdjust="spacingAndGlyphs">Melainabacteria</text>
<rect x="306.50" y="29.81" width="2.00" height="2.00" fill="#3d6be0"/>
<text x="310.00" y="32.41" font-size="4.5" stroke="#111" stroke-width="0.15" fill="#111" textLength="26.36" lengthAdjust="spacingAndGlyphs">Acidobacteria</text>
<rect x="306.50" y="37.08" width="2.00" height="2.00" fill="#e38a8a"/>
<text x="310.00" y="39.68" font-size="4.5" stroke="#111" stroke-width="0.15" fill="#111" textLength="27.57" lengthAdjust="spacingAndGlyphs">Actinobacteria</text>
<rect x="306.50" y="44.35" width="2.00" height="2.00" fill="#9fe5a9"/>
<text x="310.00" y="46.95" font-size="4.5" stroke="#111" stroke-width="0.15" fill="#111" textLength="22.73" lengthAdjust="spacingAndGlyphs">Tenericutes</text>
<rect x="306.50" y="51.62" width="2.00" height="2.00" fill="#7c5cd4"/>
<text x="310.00" y="54.22" font-size="4.5" stroke="#111" stroke-width="0.15" fill="#111" textLength="31.67" lengthAdjust="spacingAndGlyphs">Verrucomicrobia</text>
<rect x="306.50" y="58.89" width="2.00" height="2.00" fill="#f0a12c"/>
<text x="310.00" y="61.49" font-size="4.5" stroke="#111" stroke-width="0.15" fill="#111" textLength="28.29" lengthAdjust="spacingAndGlyphs">Proteobacteria</text>
<rect x="306.50" y="66.16" width="2.00" height="2.00" fill="#2fa3a3"/>
<text x="310.00" y="68.76" font-size="4.5" stroke="#111" stroke-width="0.15" fill="#111" textLength="20.06" lengthAdjust="spacingAndGlyphs">Firmicutes</text>
<rect x="306.50" y="73.43" width="2.00" height="2.00" fill="#0c0cd0"/>
<text x="310.00" y="76.03" font-size="4.5" stroke="#111" stroke-width="0.15" fill="#111" textLength="26.60" lengthAdjust="spacingAndGlyphs">Bacteroidetes</text>
<text x="3.00" y="114.60" font-size="6.2" font-weight="bold" stroke="#111" stroke-width="0.25" fill="#111">C</text>
<line x1="7.50" y1="143.10" x2="107.50" y2="143.10" stroke="#111" stroke-width="0.8"/>
<path d="M106.5,141.7 L109.6,143.1 L106.5,144.5 Z" fill="#222"/>
<line x1="11.80" y1="139.70" x2="11.80" y2="143.40" stroke="#444" stroke-width="0.7"/>
<text x="11.80" y="150.00" font-size="4.5" text-anchor="middle" stroke="#222" stroke-width="0.15" fill="#222">0</text>
<line x1="24.20" y1="139.70" x2="24.20" y2="143.40" stroke="#444" stroke-width="0.7"/>
<text x="24.20" y="150.00" font-size="4.5" text-anchor="middle" stroke="#222" stroke-width="0.15" fill="#222">1</text>
<line x1="36.50" y1="139.70" x2="36.50" y2="143.40" stroke="#444" stroke-width="0.7"/>
<text x="36.50" y="150.00" font-size="4.5" text-anchor="middle" stroke="#222" stroke-width="0.15" fill="#222">2</text>
<line x1="48.90" y1="139.70" x2="48.90" y2="143.40" stroke="#444" stroke-width="0.7"/>
<text x="48.90" y="150.00" font-size="4.5" text-anchor="middle" stroke="#222" stroke-width="0.15" fill="#222">3</text>
<line x1="61.30" y1="139.70" x2="61.30" y2="143.40" stroke="#444" stroke-width="0.7"/>
<text x="61.30" y="150.00" font-size="4.5" text-anchor="middle" stroke="#222" stroke-width="0.15" fill="#222">4</text>
<line x1="73.80" y1="139.70" x2="73.80" y2="143.40" stroke="#444" stroke-width="0.7"/>
<text x="73.80" y="150.00" font-size="4.5" text-anchor="middle" stroke="#222" stroke-width="0.15" fill="#222">5</text>
<line x1="86.30" y1="139.70" x2="86.30" y2="143.40" stroke="#444" stroke-width="0.7"/>
<text x="86.30" y="150.00" font-size="4.5" text-anchor="middle" stroke="#222" stroke-width="0.15" fill="#222">6</text>
<line x1="98.50" y1="139.70" x2="98.50" y2="143.40" stroke="#444" stroke-width="0.7"/>
<text x="98.50" y="150.00" font-size="4.5" text-anchor="middle" stroke="#222" stroke-width="0.15" fill="#222">7</text>
<line x1="24.20" y1="135.40" x2="24.20" y2="143.10" stroke="#222" stroke-width="0.6"/>
<path d="M24.2,135.4 L25.45,137.3 L24.2,139.4 L22.95,137.3 Z" fill="#222"/>
<line x1="36.50" y1="135.40" x2="36.50" y2="143.10" stroke="#222" stroke-width="0.6"/>
<path d="M36.5,135.4 L37.75,137.3 L36.5,139.4 L35.25,137.3 Z" fill="#222"/>
<line x1="73.80" y1="135.40" x2="73.80" y2="143.10" stroke="#222" stroke-width="0.6"/>
<path d="M73.8,135.4 L75.05,137.3 L73.8,139.4 L72.55,137.3 Z" fill="#222"/>
<line x1="86.30" y1="135.40" x2="86.30" y2="143.10" stroke="#222" stroke-width="0.6"/>
<path d="M86.3,135.4 L87.55,137.3 L86.3,139.4 L85.05,137.3 Z" fill="#222"/>
<line x1="98.50" y1="135.40" x2="98.50" y2="143.10" stroke="#222" stroke-width="0.6"/>
<path d="M98.5,135.4 L99.75,137.3 L98.5,139.4 L97.25,137.3 Z" fill="#222"/>
<line x1="11.80" y1="152.20" x2="11.80" y2="155.40" stroke="#222" stroke-width="0.6"/>
<path d="M11.8,151.2 L13.100000000000001,153.2 L11.8,155.2 L10.5,153.2 Z" fill="#222"/>
<line x1="36.50" y1="152.20" x2="36.50" y2="155.40" stroke="#222" stroke-width="0.6"/>
<path d="M36.5,151.2 L37.8,153.2 L36.5,155.2 L35.2,153.2 Z" fill="#222"/>
<line x1="48.90" y1="152.20" x2="48.90" y2="155.40" stroke="#222" stroke-width="0.6"/>
<path d="M48.9,151.2 L50.199999999999996,153.2 L48.9,155.2 L47.6,153.2 Z" fill="#222"/>
<line x1="61.30" y1="152.20" x2="61.30" y2="155.40" stroke="#222" stroke-width="0.6"/>
<path d="M61.3,151.2 L62.599999999999994,153.2 L61.3,155.2 L60.0,153.2 Z" fill="#222"/>
<line x1="73.80" y1="152.20" x2="73.80" y2="155.40" stroke="#222" stroke-width="0.6"/>
<path d="M73.8,151.2 L75.1,153.2 L73.8,155.2 L72.5,153.2 Z" fill="#222"/>
<line x1="86.30" y1="152.20" x2="86.30" y2="155.40" stroke="#222" stroke-width="0.6"/>
<path d="M86.3,151.2 L87.6,153.2 L86.3,155.2 L85.0,153.2 Z" fill="#222"/>
<line x1="98.50" y1="152.20" x2="98.50" y2="155.40" stroke="#222" stroke-width="0.6"/>
<path d="M98.5,151.2 L99.8,153.2 L98.5,155.2 L97.2,153.2 Z" fill="#222"/>
<text x="31.30" y="129.40" font-size="4.5" text-anchor="middle" stroke="#222" stroke-width="0.15" fill="#222" textLength="23.97" lengthAdjust="spacingAndGlyphs">Vancomycin</text>
<text x="85.80" y="129.40" font-size="4.5" text-anchor="middle" stroke="#222" stroke-width="0.15" fill="#222">SI faeces collected</text>
<text x="52.60" y="162.30" font-size="4.5" text-anchor="middle" stroke="#222" stroke-width="0.15" fill="#222">Colon faeces collected</text>
<text x="103.70" y="149.60" font-size="4.5" stroke="#222" stroke-width="0.15" fill="#222">(Day)</text>
<text x="132.80" y="112.60" font-size="6.2" font-weight="bold" stroke="#111" stroke-width="0.25" fill="#111">D</text>
<circle cx="149.50" cy="113.00" r="1.5" fill="#1c1ca6"/>
<g transform="translate(152.50,114.70)">
<text x="0.00" y="0.00" font-size="4.6" font-style="italic" stroke="#222" stroke-width="0.15" fill="#222">Mmp7</text>
<line x1="12.93" y1="-3.40" x2="14.59" y2="-3.40" stroke="#222" stroke-width="0.42"/>
<line x1="13.76" y1="-4.23" x2="13.76" y2="-2.58" stroke="#222" stroke-width="0.42"/>
<line x1="14.79" y1="-2.38" x2="15.78" y2="-4.53" stroke="#222" stroke-width="0.42"/>
<line x1="15.98" y1="-3.40" x2="17.64" y2="-3.40" stroke="#222" stroke-width="0.42"/>
<line x1="16.81" y1="-4.23" x2="16.81" y2="-2.58" stroke="#222" stroke-width="0.42"/>
</g>
<circle cx="177.00" cy="113.00" r="1.5" fill="#b5202c"/>
<g transform="translate(179.80,114.70)">
<text x="0.00" y="0.00" font-size="4.6" font-style="italic" stroke="#222" stroke-width="0.15" fill="#222">Mmp7</text>
<line x1="12.93" y1="-3.40" x2="14.59" y2="-3.40" stroke="#222" stroke-width="0.42"/>
<line x1="14.79" y1="-2.38" x2="15.78" y2="-4.53" stroke="#222" stroke-width="0.42"/>
<line x1="15.98" y1="-3.40" x2="17.64" y2="-3.40" stroke="#222" stroke-width="0.42"/>
</g>
<text x="153.00" y="122.60" font-size="4.5" stroke="#222" stroke-width="0.15" fill="#222" textLength="32.04" lengthAdjust="spacingAndGlyphs">Mouse Intestinal</text>
<text x="186.26" y="122.60" font-size="4.5" font-style="italic" stroke="#222" stroke-width="0.15" fill="#222" textLength="23.24" lengthAdjust="spacingAndGlyphs">Bacteroides</text>
<text x="209.50" y="122.60" font-size="4.5" stroke="#222" stroke-width="0.15" fill="#222" textLength="12.96" lengthAdjust="spacingAndGlyphs">-Colon</text>
<line x1="138.20" y1="129.00" x2="138.20" y2="170.10" stroke="#222" stroke-width="0.5"/>
<line x1="137.30" y1="169.60" x2="138.20" y2="169.60" stroke="#222" stroke-width="0.4"/>
<text x="137.20" y="171.10" font-size="4.5" text-anchor="end" stroke="#222" stroke-width="0.15" fill="#222" textLength="2.28" lengthAdjust="spacingAndGlyphs">2</text>
<line x1="137.30" y1="164.53" x2="138.20" y2="164.53" stroke="#222" stroke-width="0.4"/>
<text x="137.20" y="166.03" font-size="4.5" text-anchor="end" stroke="#222" stroke-width="0.15" fill="#222" textLength="2.28" lengthAdjust="spacingAndGlyphs">3</text>
<line x1="137.30" y1="159.45" x2="138.20" y2="159.45" stroke="#222" stroke-width="0.4"/>
<text x="137.20" y="160.95" font-size="4.5" text-anchor="end" stroke="#222" stroke-width="0.15" fill="#222" textLength="2.28" lengthAdjust="spacingAndGlyphs">4</text>
<line x1="137.30" y1="154.38" x2="138.20" y2="154.38" stroke="#222" stroke-width="0.4"/>
<text x="137.20" y="155.88" font-size="4.5" text-anchor="end" stroke="#222" stroke-width="0.15" fill="#222" textLength="2.28" lengthAdjust="spacingAndGlyphs">5</text>
<line x1="137.30" y1="149.30" x2="138.20" y2="149.30" stroke="#222" stroke-width="0.4"/>
<text x="137.20" y="150.80" font-size="4.5" text-anchor="end" stroke="#222" stroke-width="0.15" fill="#222" textLength="2.28" lengthAdjust="spacingAndGlyphs">6</text>
<line x1="137.30" y1="144.22" x2="138.20" y2="144.22" stroke="#222" stroke-width="0.4"/>
<text x="137.20" y="145.72" font-size="4.5" text-anchor="end" stroke="#222" stroke-width="0.15" fill="#222" textLength="2.28" lengthAdjust="spacingAndGlyphs">7</text>
<line x1="137.30" y1="139.15" x2="138.20" y2="139.15" stroke="#222" stroke-width="0.4"/>
<text x="137.20" y="140.65" font-size="4.5" text-anchor="end" stroke="#222" stroke-width="0.15" fill="#222" textLength="2.28" lengthAdjust="spacingAndGlyphs">8</text>
<line x1="137.30" y1="134.07" x2="138.20" y2="134.07" stroke="#222" stroke-width="0.4"/>
<text x="137.20" y="135.57" font-size="4.5" text-anchor="end" stroke="#222" stroke-width="0.15" fill="#222" textLength="2.28" lengthAdjust="spacingAndGlyphs">9</text>
<line x1="137.30" y1="129.00" x2="138.20" y2="129.00" stroke="#222" stroke-width="0.4"/>
<text x="137.20" y="130.50" font-size="4.5" text-anchor="end" stroke="#222" stroke-width="0.15" fill="#222" textLength="4.56" lengthAdjust="spacingAndGlyphs">10</text>
<text x="128.60" y="153.30" font-size="4.6" text-anchor="middle" stroke="#222" stroke-width="0.15" fill="#222" transform="rotate(-90 128.60 153.30)">Log10 16S/DNA copies (per mg)</text>
<line x1="138.20" y1="170.10" x2="241.40" y2="170.10" stroke="#222" stroke-width="0.5"/>
<line x1="142.30" y1="170.10" x2="142.30" y2="171.10" stroke="#222" stroke-width="0.4"/>
<text x="142.30" y="175.20" font-size="4.5" text-anchor="middle" stroke="#222" stroke-width="0.15" fill="#222" textLength="2.39" lengthAdjust="spacingAndGlyphs">0</text>
<line x1="149.67" y1="170.10" x2="149.67" y2="171.10" stroke="#222" stroke-width="0.4"/>
<text x="149.67" y="175.20" font-size="4.5" text-anchor="middle" stroke="#222" stroke-width="0.15" fill="#222" textLength="2.39" lengthAdjust="spacingAndGlyphs">2</text>
<line x1="157.04" y1="170.10" x2="157.04" y2="171.10" stroke="#222" stroke-width="0.4"/>
<text x="157.04" y="175.20" font-size="4.5" text-anchor="middle" stroke="#222" stroke-width="0.15" fill="#222" textLength="2.39" lengthAdjust="spacingAndGlyphs">3</text>
<line x1="164.41" y1="170.10" x2="164.41" y2="171.10" stroke="#222" stroke-width="0.4"/>
<text x="164.41" y="175.20" font-size="4.5" text-anchor="middle" stroke="#222" stroke-width="0.15" fill="#222" textLength="2.39" lengthAdjust="spacingAndGlyphs">4</text>
<line x1="171.78" y1="170.10" x2="171.78" y2="171.10" stroke="#222" stroke-width="0.4"/>
<text x="171.78" y="175.20" font-size="4.5" text-anchor="middle" stroke="#222" stroke-width="0.15" fill="#222" textLength="2.39" lengthAdjust="spacingAndGlyphs">5</text>
<line x1="179.15" y1="170.10" x2="179.15" y2="171.10" stroke="#222" stroke-width="0.4"/>
<text x="179.15" y="175.20" font-size="4.5" text-anchor="middle" stroke="#222" stroke-width="0.15" fill="#222" textLength="2.39" lengthAdjust="spacingAndGlyphs">6</text>
<line x1="186.52" y1="170.10" x2="186.52" y2="171.10" stroke="#222" stroke-width="0.4"/>
<text x="186.52" y="175.20" font-size="4.5" text-anchor="middle" stroke="#222" stroke-width="0.15" fill="#222" textLength="2.39" lengthAdjust="spacingAndGlyphs">7</text>
<line x1="193.89" y1="170.10" x2="193.89" y2="171.10" stroke="#222" stroke-width="0.4"/>
<text x="193.89" y="175.20" font-size="4.5" text-anchor="middle" stroke="#222" stroke-width="0.15" fill="#222" textLength="2.39" lengthAdjust="spacingAndGlyphs">8</text>
<line x1="201.26" y1="170.10" x2="201.26" y2="171.10" stroke="#222" stroke-width="0.4"/>
<text x="201.26" y="175.20" font-size="4.5" text-anchor="middle" stroke="#222" stroke-width="0.15" fill="#222" textLength="2.39" lengthAdjust="spacingAndGlyphs">9</text>
<line x1="208.63" y1="170.10" x2="208.63" y2="171.10" stroke="#222" stroke-width="0.4"/>
<text x="208.63" y="175.20" font-size="4.5" text-anchor="middle" stroke="#222" stroke-width="0.15" fill="#222" textLength="4.78" lengthAdjust="spacingAndGlyphs">10</text>
<line x1="216.00" y1="170.10" x2="216.00" y2="171.10" stroke="#222" stroke-width="0.4"/>
<text x="216.00" y="175.20" font-size="4.5" text-anchor="middle" stroke="#222" stroke-width="0.15" fill="#222" textLength="4.78" lengthAdjust="spacingAndGlyphs">11</text>
<line x1="223.37" y1="170.10" x2="223.37" y2="171.10" stroke="#222" stroke-width="0.4"/>
<text x="223.37" y="175.20" font-size="4.5" text-anchor="middle" stroke="#222" stroke-width="0.15" fill="#222" textLength="4.78" lengthAdjust="spacingAndGlyphs">12</text>
<line x1="230.74" y1="170.10" x2="230.74" y2="171.10" stroke="#222" stroke-width="0.4"/>
<text x="230.74" y="175.20" font-size="4.5" text-anchor="middle" stroke="#222" stroke-width="0.15" fill="#222" textLength="4.78" lengthAdjust="spacingAndGlyphs">13</text>
<line x1="238.11" y1="170.10" x2="238.11" y2="171.10" stroke="#222" stroke-width="0.4"/>
<text x="238.11" y="175.20" font-size="4.5" text-anchor="middle" stroke="#222" stroke-width="0.15" fill="#222" textLength="4.78" lengthAdjust="spacingAndGlyphs">14</text>
<text x="243.60" y="175.60" font-size="4.5" stroke="#222" stroke-width="0.15" fill="#222" textLength="10.76" lengthAdjust="spacingAndGlyphs">(Day)</text>
<line x1="188.02" y1="138.00" x2="188.02" y2="163.00" stroke="#888" stroke-width="0.4"/>
<line x1="195.39" y1="142.00" x2="195.39" y2="158.00" stroke="#888" stroke-width="0.4"/>
<line x1="202.76" y1="142.00" x2="202.76" y2="161.00" stroke="#888" stroke-width="0.4"/>
<line x1="210.13" y1="138.00" x2="210.13" y2="160.00" stroke="#888" stroke-width="0.4"/>
<line x1="217.50" y1="140.00" x2="217.50" y2="157.00" stroke="#888" stroke-width="0.4"/>
<line x1="224.87" y1="138.00" x2="224.87" y2="155.00" stroke="#888" stroke-width="0.4"/>
<line x1="232.24" y1="130.40" x2="232.24" y2="156.30" stroke="#888" stroke-width="0.4"/>
<circle cx="141.28" cy="135.60" r="1.55" fill="#1c1ca6"/>
<circle cx="141.60" cy="135.09" r="1.55" fill="#1c1ca6"/>
<circle cx="141.75" cy="136.11" r="1.55" fill="#1c1ca6"/>
<circle cx="142.14" cy="134.58" r="1.55" fill="#1c1ca6"/>
<circle cx="141.60" cy="136.61" r="1.55" fill="#1c1ca6"/>
<circle cx="142.09" cy="135.60" r="1.55" fill="#1c1ca6"/>
<circle cx="139.68" cy="135.09" r="1.55" fill="#1c1ca6"/>
<circle cx="143.56" cy="133.06" r="1.55" fill="#b5202c"/>
<circle cx="144.85" cy="134.07" r="1.55" fill="#b5202c"/>
<circle cx="144.05" cy="135.09" r="1.55" fill="#b5202c"/>
<circle cx="144.73" cy="136.11" r="1.55" fill="#b5202c"/>
<circle cx="142.61" cy="137.12" r="1.55" fill="#b5202c"/>
<circle cx="143.57" cy="134.58" r="1.55" fill="#b5202c"/>
<circle cx="147.64" cy="143.21" r="1.55" fill="#1c1ca6"/>
<circle cx="148.44" cy="148.28" r="1.55" fill="#1c1ca6"/>
<circle cx="148.52" cy="154.38" r="1.55" fill="#1c1ca6"/>
<circle cx="147.01" cy="156.91" r="1.55" fill="#1c1ca6"/>
<circle cx="147.56" cy="159.45" r="1.55" fill="#1c1ca6"/>
<circle cx="147.72" cy="160.47" r="1.55" fill="#1c1ca6"/>
<circle cx="149.44" cy="161.99" r="1.55" fill="#1c1ca6"/>
<circle cx="149.04" cy="163.51" r="1.55" fill="#1c1ca6"/>
<circle cx="147.40" cy="164.53" r="1.55" fill="#1c1ca6"/>
<circle cx="149.12" cy="165.54" r="1.55" fill="#1c1ca6"/>
<circle cx="147.34" cy="158.44" r="1.55" fill="#1c1ca6"/>
<circle cx="148.64" cy="161.48" r="1.55" fill="#1c1ca6"/>
<circle cx="150.01" cy="151.84" r="1.55" fill="#b5202c"/>
<circle cx="149.67" cy="154.38" r="1.55" fill="#b5202c"/>
<circle cx="152.02" cy="156.91" r="1.55" fill="#b5202c"/>
<circle cx="150.24" cy="158.44" r="1.55" fill="#b5202c"/>
<circle cx="150.25" cy="160.47" r="1.55" fill="#b5202c"/>
<circle cx="152.32" cy="161.99" r="1.55" fill="#b5202c"/>
<circle cx="152.03" cy="163.51" r="1.55" fill="#b5202c"/>
<circle cx="150.45" cy="164.53" r="1.55" fill="#b5202c"/>
<circle cx="152.27" cy="165.54" r="1.55" fill="#b5202c"/>
<circle cx="151.13" cy="155.39" r="1.55" fill="#b5202c"/>
<circle cx="156.17" cy="161.48" r="1.55" fill="#1c1ca6"/>
<circle cx="154.89" cy="161.99" r="1.55" fill="#1c1ca6"/>
<circle cx="156.88" cy="160.47" r="1.55" fill="#1c1ca6"/>
<circle cx="156.20" cy="162.50" r="1.55" fill="#1c1ca6"/>
<circle cx="156.95" cy="160.97" r="1.55" fill="#1c1ca6"/>
<circle cx="159.45" cy="161.48" r="1.55" fill="#b5202c"/>
<circle cx="157.85" cy="162.50" r="1.55" fill="#b5202c"/>
<circle cx="158.02" cy="160.47" r="1.55" fill="#b5202c"/>
<circle cx="157.49" cy="161.99" r="1.55" fill="#b5202c"/>
<circle cx="162.10" cy="144.22" r="1.55" fill="#1c1ca6"/>
<circle cx="161.89" cy="146.76" r="1.55" fill="#1c1ca6"/>
<circle cx="162.52" cy="149.30" r="1.55" fill="#1c1ca6"/>
<circle cx="163.34" cy="153.36" r="1.55" fill="#1c1ca6"/>
<circle cx="161.72" cy="155.39" r="1.55" fill="#1c1ca6"/>
<circle cx="163.54" cy="159.45" r="1.55" fill="#1c1ca6"/>
<circle cx="162.62" cy="161.99" r="1.55" fill="#1c1ca6"/>
<circle cx="162.55" cy="163.51" r="1.55" fill="#1c1ca6"/>
<circle cx="163.92" cy="164.53" r="1.55" fill="#1c1ca6"/>
<circle cx="163.01" cy="165.03" r="1.55" fill="#1c1ca6"/>
<circle cx="162.56" cy="160.47" r="1.55" fill="#1c1ca6"/>
<circle cx="165.71" cy="159.45" r="1.55" fill="#b5202c"/>
<circle cx="166.31" cy="161.99" r="1.55" fill="#b5202c"/>
<circle cx="164.56" cy="163.51" r="1.55" fill="#b5202c"/>
<circle cx="167.04" cy="164.53" r="1.55" fill="#b5202c"/>
<circle cx="164.47" cy="165.54" r="1.55" fill="#b5202c"/>
<circle cx="166.43" cy="160.47" r="1.55" fill="#b5202c"/>
<circle cx="166.69" cy="166.56" r="1.55" fill="#b5202c"/>
<circle cx="169.13" cy="136.61" r="1.55" fill="#1c1ca6"/>
<circle cx="171.21" cy="137.63" r="1.55" fill="#1c1ca6"/>
<circle cx="170.07" cy="141.18" r="1.55" fill="#1c1ca6"/>
<circle cx="170.64" cy="144.22" r="1.55" fill="#1c1ca6"/>
<circle cx="169.10" cy="147.27" r="1.55" fill="#1c1ca6"/>
<circle cx="169.21" cy="151.84" r="1.55" fill="#1c1ca6"/>
<circle cx="169.57" cy="154.38" r="1.55" fill="#1c1ca6"/>
<circle cx="171.66" cy="156.41" r="1.55" fill="#1c1ca6"/>
<circle cx="169.61" cy="158.44" r="1.55" fill="#1c1ca6"/>
<circle cx="171.12" cy="160.47" r="1.55" fill="#1c1ca6"/>
<circle cx="174.29" cy="152.85" r="1.55" fill="#b5202c"/>
<circle cx="174.32" cy="155.39" r="1.55" fill="#b5202c"/>
<circle cx="172.71" cy="157.93" r="1.55" fill="#b5202c"/>
<circle cx="172.74" cy="163.51" r="1.55" fill="#b5202c"/>
<circle cx="173.20" cy="164.53" r="1.55" fill="#b5202c"/>
<circle cx="173.87" cy="165.54" r="1.55" fill="#b5202c"/>
<circle cx="172.07" cy="166.56" r="1.55" fill="#b5202c"/>
<circle cx="173.80" cy="159.45" r="1.55" fill="#b5202c"/>
<circle cx="178.60" cy="135.09" r="1.55" fill="#1c1ca6"/>
<circle cx="178.77" cy="136.61" r="1.55" fill="#1c1ca6"/>
<circle cx="176.55" cy="138.13" r="1.55" fill="#1c1ca6"/>
<circle cx="179.00" cy="140.16" r="1.55" fill="#1c1ca6"/>
<circle cx="176.70" cy="149.30" r="1.55" fill="#1c1ca6"/>
<circle cx="177.37" cy="136.11" r="1.55" fill="#1c1ca6"/>
<circle cx="180.80" cy="159.45" r="1.55" fill="#b5202c"/>
<circle cx="181.63" cy="161.48" r="1.55" fill="#b5202c"/>
<circle cx="180.07" cy="163.51" r="1.55" fill="#b5202c"/>
<circle cx="181.65" cy="164.53" r="1.55" fill="#b5202c"/>
<circle cx="180.62" cy="165.54" r="1.55" fill="#b5202c"/>
<circle cx="179.99" cy="136.11" r="1.55" fill="#b5202c"/>
<circle cx="184.68" cy="135.29" r="1.55" fill="#1c1ca6"/>
<circle cx="184.30" cy="136.61" r="1.55" fill="#1c1ca6"/>
<circle cx="184.03" cy="139.15" r="1.55" fill="#1c1ca6"/>
<circle cx="184.22" cy="136.11" r="1.55" fill="#1c1ca6"/>
<circle cx="188.38" cy="143.41" r="1.55" fill="#b5202c"/>
<circle cx="189.21" cy="151.48" r="1.55" fill="#b5202c"/>
<circle cx="186.96" cy="157.98" r="1.55" fill="#b5202c"/>
<circle cx="186.65" cy="161.99" r="1.55" fill="#b5202c"/>
<circle cx="189.18" cy="141.18" r="1.55" fill="#b5202c"/>
<circle cx="192.63" cy="136.11" r="1.55" fill="#1c1ca6"/>
<circle cx="192.29" cy="140.01" r="1.55" fill="#1c1ca6"/>
<circle cx="191.83" cy="137.63" r="1.55" fill="#1c1ca6"/>
<circle cx="195.49" cy="141.79" r="1.55" fill="#b5202c"/>
<circle cx="196.12" cy="144.99" r="1.55" fill="#b5202c"/>
<circle cx="195.12" cy="149.00" r="1.55" fill="#b5202c"/>
<circle cx="195.03" cy="157.12" r="1.55" fill="#b5202c"/>
<circle cx="194.04" cy="157.98" r="1.55" fill="#b5202c"/>
<circle cx="201.03" cy="137.68" r="1.55" fill="#1c1ca6"/>
<circle cx="198.65" cy="141.79" r="1.55" fill="#1c1ca6"/>
<circle cx="199.89" cy="139.15" r="1.55" fill="#1c1ca6"/>
<circle cx="203.52" cy="143.41" r="1.55" fill="#b5202c"/>
<circle cx="201.61" cy="157.98" r="1.55" fill="#b5202c"/>
<circle cx="203.24" cy="159.45" r="1.55" fill="#b5202c"/>
<circle cx="203.82" cy="142.19" r="1.55" fill="#b5202c"/>
<circle cx="207.63" cy="137.68" r="1.55" fill="#1c1ca6"/>
<circle cx="208.06" cy="140.01" r="1.55" fill="#1c1ca6"/>
<circle cx="206.22" cy="138.64" r="1.55" fill="#1c1ca6"/>
<circle cx="209.80" cy="140.01" r="1.55" fill="#b5202c"/>
<circle cx="209.03" cy="145.80" r="1.55" fill="#b5202c"/>
<circle cx="210.91" cy="157.98" r="1.55" fill="#b5202c"/>
<circle cx="209.43" cy="160.41" r="1.55" fill="#b5202c"/>
<circle cx="214.52" cy="135.29" r="1.55" fill="#1c1ca6"/>
<circle cx="216.00" cy="140.01" r="1.55" fill="#1c1ca6"/>
<circle cx="215.60" cy="137.63" r="1.55" fill="#1c1ca6"/>
<circle cx="218.64" cy="139.66" r="1.55" fill="#b5202c"/>
<circle cx="217.22" cy="144.99" r="1.55" fill="#b5202c"/>
<circle cx="217.32" cy="156.30" r="1.55" fill="#b5202c"/>
<circle cx="222.64" cy="138.49" r="1.55" fill="#1c1ca6"/>
<circle cx="221.96" cy="137.63" r="1.55" fill="#1c1ca6"/>
<circle cx="224.16" cy="138.49" r="1.55" fill="#b5202c"/>
<circle cx="224.46" cy="148.18" r="1.55" fill="#b5202c"/>
<circle cx="223.77" cy="154.68" r="1.55" fill="#b5202c"/>
<circle cx="229.06" cy="136.87" r="1.55" fill="#1c1ca6"/>
<circle cx="230.71" cy="138.13" r="1.55" fill="#1c1ca6"/>
<circle cx="233.33" cy="139.66" r="1.55" fill="#b5202c"/>
<circle cx="232.43" cy="138.64" r="1.55" fill="#b5202c"/>
<circle cx="236.76" cy="136.87" r="1.55" fill="#1c1ca6"/>
<circle cx="236.32" cy="140.01" r="1.55" fill="#1c1ca6"/>
<circle cx="235.65" cy="138.13" r="1.55" fill="#1c1ca6"/>
<circle cx="238.85" cy="139.66" r="1.55" fill="#b5202c"/>
<circle cx="240.22" cy="138.64" r="1.55" fill="#b5202c"/>
<text x="146.70" y="132.10" font-size="4.6" text-anchor="middle" font-weight="bold" fill="#111">****</text>
<line x1="140.70" y1="133.30" x2="152.70" y2="133.30" stroke="#888" stroke-width="0.4"/>
<text x="164.20" y="140.60" font-size="4.6" text-anchor="middle" font-weight="bold" fill="#111">**</text>
<line x1="161.00" y1="141.80" x2="167.40" y2="141.80" stroke="#888" stroke-width="0.4"/>
<text x="171.60" y="134.30" font-size="4.6" text-anchor="middle" font-weight="bold" fill="#111">*</text>
<line x1="168.20" y1="135.50" x2="175.00" y2="135.50" stroke="#888" stroke-width="0.4"/>
<text x="178.80" y="131.60" font-size="4.6" text-anchor="middle" font-weight="bold" fill="#111">*</text>
<line x1="175.60" y1="132.80" x2="182.00" y2="132.80" stroke="#888" stroke-width="0.4"/>
<text x="186.40" y="132.10" font-size="4.6" text-anchor="middle" font-weight="bold" fill="#111">***</text>
<line x1="182.90" y1="133.30" x2="189.90" y2="133.30" stroke="#888" stroke-width="0.4"/>
<text x="276.00" y="122.60" font-size="4.5" stroke="#222" stroke-width="0.15" fill="#222" textLength="32.04" lengthAdjust="spacingAndGlyphs">Mouse Intestinal</text>
<text x="309.26" y="122.60" font-size="4.5" font-style="italic" stroke="#222" stroke-width="0.15" fill="#222" textLength="23.24" lengthAdjust="spacingAndGlyphs">Bacteroides</text>
<text x="332.50" y="122.60" font-size="4.5" stroke="#222" stroke-width="0.15" fill="#222" textLength="5.62" lengthAdjust="spacingAndGlyphs">-SI</text>
<line x1="277.30" y1="132.60" x2="277.30" y2="171.50" stroke="#222" stroke-width="0.5"/>
<line x1="276.40" y1="171.50" x2="277.30" y2="171.50" stroke="#222" stroke-width="0.4"/>
<text x="276.30" y="173.00" font-size="4.5" text-anchor="end" stroke="#222" stroke-width="0.15" fill="#222" textLength="2.34" lengthAdjust="spacingAndGlyphs">2</text>
<line x1="276.40" y1="165.94" x2="277.30" y2="165.94" stroke="#222" stroke-width="0.4"/>
<text x="276.30" y="167.44" font-size="4.5" text-anchor="end" stroke="#222" stroke-width="0.15" fill="#222" textLength="2.34" lengthAdjust="spacingAndGlyphs">3</text>
<line x1="276.40" y1="160.39" x2="277.30" y2="160.39" stroke="#222" stroke-width="0.4"/>
<text x="276.30" y="161.89" font-size="4.5" text-anchor="end" stroke="#222" stroke-width="0.15" fill="#222" textLength="2.34" lengthAdjust="spacingAndGlyphs">4</text>
<line x1="276.40" y1="154.83" x2="277.30" y2="154.83" stroke="#222" stroke-width="0.4"/>
<text x="276.30" y="156.33" font-size="4.5" text-anchor="end" stroke="#222" stroke-width="0.15" fill="#222" textLength="2.34" lengthAdjust="spacingAndGlyphs">5</text>
<line x1="276.40" y1="149.27" x2="277.30" y2="149.27" stroke="#222" stroke-width="0.4"/>
<text x="276.30" y="150.77" font-size="4.5" text-anchor="end" stroke="#222" stroke-width="0.15" fill="#222" textLength="2.34" lengthAdjust="spacingAndGlyphs">6</text>
<line x1="276.40" y1="143.71" x2="277.30" y2="143.71" stroke="#222" stroke-width="0.4"/>
<text x="276.30" y="145.21" font-size="4.5" text-anchor="end" stroke="#222" stroke-width="0.15" fill="#222" textLength="2.34" lengthAdjust="spacingAndGlyphs">7</text>
<line x1="276.40" y1="138.16" x2="277.30" y2="138.16" stroke="#222" stroke-width="0.4"/>
<text x="276.30" y="139.66" font-size="4.5" text-anchor="end" stroke="#222" stroke-width="0.15" fill="#222" textLength="2.34" lengthAdjust="spacingAndGlyphs">8</text>
<line x1="276.40" y1="132.60" x2="277.30" y2="132.60" stroke="#222" stroke-width="0.4"/>
<text x="276.30" y="134.10" font-size="4.5" text-anchor="end" stroke="#222" stroke-width="0.15" fill="#222" textLength="2.34" lengthAdjust="spacingAndGlyphs">9</text>
<text x="270.40" y="155.00" font-size="4.5" text-anchor="middle" stroke="#222" stroke-width="0.15" fill="#222" transform="rotate(-90 270.40 155.00)" textLength="62.14" lengthAdjust="spacingAndGlyphs">Log10 16S/DNA copies (per mg)</text>
<line x1="277.30" y1="171.50" x2="319.50" y2="171.50" stroke="#222" stroke-width="0.5"/>
<line x1="281.30" y1="171.50" x2="281.30" y2="172.50" stroke="#222" stroke-width="0.4"/>
<text x="281.30" y="177.00" font-size="4.5" text-anchor="middle" stroke="#222" stroke-width="0.15" fill="#222" textLength="2.45" lengthAdjust="spacingAndGlyphs">5</text>
<line x1="296.40" y1="171.50" x2="296.40" y2="172.50" stroke="#222" stroke-width="0.4"/>
<text x="296.40" y="177.00" font-size="4.5" text-anchor="middle" stroke="#222" stroke-width="0.15" fill="#222" textLength="2.45" lengthAdjust="spacingAndGlyphs">6</text>
<line x1="311.30" y1="171.50" x2="311.30" y2="172.50" stroke="#222" stroke-width="0.4"/>
<text x="311.30" y="177.00" font-size="4.5" text-anchor="middle" stroke="#222" stroke-width="0.15" fill="#222" textLength="2.45" lengthAdjust="spacingAndGlyphs">7</text>
<text x="321.00" y="177.20" font-size="4.5" stroke="#222" stroke-width="0.15" fill="#222">(Day)</text>
<line x1="278.50" y1="148.30" x2="284.50" y2="148.30" stroke="#999" stroke-width="0.45"/>
<line x1="293.20" y1="146.50" x2="299.20" y2="146.50" stroke="#999" stroke-width="0.45"/>
<line x1="307.50" y1="141.50" x2="313.50" y2="141.50" stroke="#999" stroke-width="0.45"/>
<circle cx="280.20" cy="145.90" r="1.7" fill="#1c1ca6"/>
<circle cx="277.60" cy="152.30" r="1.7" fill="#1c1ca6"/>
<circle cx="281.30" cy="152.30" r="1.7" fill="#1c1ca6"/>
<circle cx="279.80" cy="156.30" r="1.7" fill="#1c1ca6"/>
<circle cx="283.60" cy="156.30" r="1.7" fill="#1c1ca6"/>
<circle cx="292.60" cy="140.30" r="1.7" fill="#1c1ca6"/>
<circle cx="297.10" cy="139.50" r="1.7" fill="#1c1ca6"/>
<circle cx="294.30" cy="146.00" r="1.7" fill="#1c1ca6"/>
<circle cx="292.60" cy="150.60" r="1.7" fill="#1c1ca6"/>
<circle cx="294.50" cy="153.50" r="1.7" fill="#1c1ca6"/>
<circle cx="297.30" cy="154.40" r="1.7" fill="#1c1ca6"/>
<circle cx="307.50" cy="140.80" r="1.7" fill="#1c1ca6"/>
<circle cx="311.30" cy="142.20" r="1.7" fill="#1c1ca6"/>
<circle cx="311.50" cy="145.90" r="1.7" fill="#1c1ca6"/>
<circle cx="284.50" cy="163.00" r="1.7" fill="#b5202c"/>
<circle cx="286.80" cy="164.50" r="1.7" fill="#b5202c"/>
<circle cx="289.00" cy="165.50" r="1.7" fill="#b5202c"/>
<circle cx="286.50" cy="166.30" r="1.7" fill="#b5202c"/>
<circle cx="288.50" cy="163.30" r="1.7" fill="#b5202c"/>
<circle cx="284.20" cy="165.30" r="1.7" fill="#b5202c"/>
<circle cx="296.50" cy="159.80" r="1.7" fill="#b5202c"/>
<circle cx="299.00" cy="161.50" r="1.7" fill="#b5202c"/>
<circle cx="301.80" cy="163.50" r="1.7" fill="#b5202c"/>
<circle cx="297.50" cy="163.20" r="1.7" fill="#b5202c"/>
<circle cx="300.50" cy="160.00" r="1.7" fill="#b5202c"/>
<circle cx="312.30" cy="158.00" r="1.7" fill="#b5202c"/>
<circle cx="314.80" cy="160.50" r="1.7" fill="#b5202c"/>
<circle cx="316.80" cy="161.50" r="1.7" fill="#b5202c"/>
<circle cx="313.50" cy="161.30" r="1.7" fill="#b5202c"/>
<circle cx="316.00" cy="158.30" r="1.7" fill="#b5202c"/>
<text x="283.00" y="140.00" font-size="4.6" text-anchor="middle" font-weight="bold" fill="#111">**</text>
<line x1="279.00" y1="140.90" x2="287.00" y2="140.90" stroke="#888" stroke-width="0.4"/>
<text x="296.30" y="138.60" font-size="4.6" text-anchor="middle" font-weight="bold" fill="#111">**</text>
<line x1="292.30" y1="139.50" x2="300.30" y2="139.50" stroke="#888" stroke-width="0.4"/>
<text x="312.20" y="136.40" font-size="4.6" text-anchor="middle" font-weight="bold" fill="#111">*</text>
<line x1="308.20" y1="137.30" x2="316.20" y2="137.30" stroke="#888" stroke-width="0.4"/>
<text x="3.20" y="200.70" font-size="6.2" font-weight="bold" stroke="#111" stroke-width="0.25" fill="#111">E</text>
<text x="13.20" y="250.70" font-size="4.9" text-anchor="middle" stroke="#222" stroke-width="0.15" fill="#222" transform="rotate(-90 13.20 250.70)">Relative Abundance</text>
<line x1="26.60" y1="211.00" x2="26.60" y2="293.00" stroke="#555" stroke-width="0.4"/>
<line x1="25.80" y1="211.00" x2="26.60" y2="211.00" stroke="#222" stroke-width="0.45"/>
<text x="25.30" y="212.55" font-size="4.5" text-anchor="end" stroke="#222" stroke-width="0.15" fill="#222" textLength="2.39" lengthAdjust="spacingAndGlyphs">1</text>
<line x1="25.80" y1="231.50" x2="26.60" y2="231.50" stroke="#222" stroke-width="0.45"/>
<text x="25.30" y="233.05" font-size="4.5" text-anchor="end" stroke="#222" stroke-width="0.15" fill="#222" textLength="8.37" lengthAdjust="spacingAndGlyphs">0.75</text>
<line x1="25.80" y1="252.00" x2="26.60" y2="252.00" stroke="#222" stroke-width="0.45"/>
<text x="25.30" y="253.55" font-size="4.5" text-anchor="end" stroke="#222" stroke-width="0.15" fill="#222" textLength="5.98" lengthAdjust="spacingAndGlyphs">0.5</text>
<line x1="25.80" y1="272.50" x2="26.60" y2="272.50" stroke="#222" stroke-width="0.45"/>
<text x="25.30" y="274.05" font-size="4.5" text-anchor="end" stroke="#222" stroke-width="0.15" fill="#222" textLength="8.37" lengthAdjust="spacingAndGlyphs">0.25</text>
<line x1="25.80" y1="293.00" x2="26.60" y2="293.00" stroke="#222" stroke-width="0.45"/>
<text x="25.30" y="294.55" font-size="4.5" text-anchor="end" stroke="#222" stroke-width="0.15" fill="#222" textLength="2.39" lengthAdjust="spacingAndGlyphs">0</text>
<rect x="29.00" y="211.00" width="3.40" height="15.40" fill="#f0a12c"/>
<rect x="29.00" y="226.40" width="3.40" height="20.90" fill="#2fa3a3"/>
<rect x="29.00" y="247.30" width="3.40" height="45.70" fill="#0c0cd0"/>
<rect x="34.30" y="211.00" width="3.40" height="14.20" fill="#f0a12c"/>
<rect x="34.30" y="225.20" width="3.40" height="15.40" fill="#2fa3a3"/>
<rect x="34.30" y="240.60" width="3.40" height="52.40" fill="#0c0cd0"/>
<rect x="40.00" y="211.00" width="3.40" height="13.00" fill="#f0a12c"/>
<rect x="40.00" y="224.00" width="3.40" height="23.80" fill="#2fa3a3"/>
<rect x="40.00" y="247.80" width="3.40" height="45.20" fill="#0c0cd0"/>
<rect x="45.60" y="211.00" width="3.40" height="13.00" fill="#7c5cd4"/>
<rect x="45.60" y="224.00" width="3.40" height="53.40" fill="#f0a12c"/>
<rect x="45.60" y="277.40" width="3.40" height="15.60" fill="#2fa3a3"/>
<rect x="51.40" y="211.00" width="3.40" height="4.70" fill="#ecec4a"/>
<rect x="51.40" y="215.70" width="3.40" height="11.90" fill="#f0a12c"/>
<rect x="51.40" y="227.60" width="3.40" height="1.90" fill="#2fa3a3"/>
<rect x="51.40" y="229.50" width="3.40" height="63.50" fill="#d42a3c"/>
<rect x="57.00" y="211.00" width="3.40" height="7.80" fill="#7c5cd4"/>
<rect x="57.00" y="218.80" width="3.40" height="37.20" fill="#f0a12c"/>
<rect x="57.00" y="256.00" width="3.40" height="37.00" fill="#2fa3a3"/>
<rect x="68.20" y="211.00" width="3.40" height="9.40" fill="#ecec4a"/>
<rect x="68.20" y="220.40" width="3.40" height="7.20" fill="#f0a12c"/>
<rect x="68.20" y="227.60" width="3.40" height="29.70" fill="#2fa3a3"/>
<rect x="68.20" y="257.30" width="3.40" height="35.70" fill="#0c0cd0"/>
<rect x="74.20" y="211.00" width="3.40" height="4.70" fill="#ecec4a"/>
<rect x="74.20" y="215.70" width="3.40" height="6.30" fill="#f0a12c"/>
<rect x="74.20" y="222.00" width="3.40" height="29.30" fill="#2fa3a3"/>
<rect x="74.20" y="251.30" width="3.40" height="41.70" fill="#0c0cd0"/>
<rect x="79.90" y="211.00" width="3.40" height="3.50" fill="#ecec4a"/>
<rect x="79.90" y="214.50" width="3.40" height="7.10" fill="#9fe5a9"/>
<rect x="79.90" y="221.60" width="3.40" height="11.40" fill="#f0a12c"/>
<rect x="79.90" y="233.00" width="3.40" height="19.50" fill="#2fa3a3"/>
<rect x="79.90" y="252.50" width="3.40" height="40.50" fill="#0c0cd0"/>
<rect x="85.80" y="211.00" width="3.40" height="21.30" fill="#7c5cd4"/>
<rect x="85.80" y="232.30" width="3.40" height="30.90" fill="#f0a12c"/>
<rect x="85.80" y="263.20" width="3.40" height="29.80" fill="#2fa3a3"/>
<rect x="91.30" y="211.00" width="3.40" height="16.60" fill="#7c5cd4"/>
<rect x="91.30" y="227.60" width="3.40" height="32.00" fill="#f0a12c"/>
<rect x="91.30" y="259.60" width="3.40" height="33.40" fill="#2fa3a3"/>
<rect x="96.70" y="211.00" width="3.40" height="27.30" fill="#7c5cd4"/>
<rect x="96.70" y="238.30" width="3.40" height="40.30" fill="#f0a12c"/>
<rect x="96.70" y="278.60" width="3.40" height="14.40" fill="#2fa3a3"/>
<line x1="29.50" y1="296.00" x2="42.60" y2="296.00" stroke="#222" stroke-width="0.5"/>
<line x1="46.00" y1="296.00" x2="59.00" y2="296.00" stroke="#222" stroke-width="0.5"/>
<line x1="68.70" y1="296.00" x2="82.00" y2="296.00" stroke="#222" stroke-width="0.5"/>
<line x1="85.30" y1="296.00" x2="100.00" y2="296.00" stroke="#222" stroke-width="0.5"/>
<g transform="translate(37.00,302.60)">
<text x="-8.16" y="0.00" font-size="4.5" font-style="italic" stroke="#222" stroke-width="0.15" fill="#222">Mmp7</text>
<line x1="4.49" y1="-3.33" x2="6.11" y2="-3.33" stroke="#222" stroke-width="0.42"/>
<line x1="5.30" y1="-4.14" x2="5.30" y2="-2.52" stroke="#222" stroke-width="0.42"/>
<line x1="6.31" y1="-2.32" x2="7.28" y2="-4.44" stroke="#222" stroke-width="0.42"/>
<line x1="7.48" y1="-3.33" x2="9.10" y2="-3.33" stroke="#222" stroke-width="0.42"/>
<line x1="8.29" y1="-4.14" x2="8.29" y2="-2.52" stroke="#222" stroke-width="0.42"/>
</g>
<g transform="translate(51.50,302.60)">
<text x="-8.16" y="0.00" font-size="4.5" font-style="italic" stroke="#222" stroke-width="0.15" fill="#222">Mmp7</text>
<line x1="4.49" y1="-3.33" x2="6.11" y2="-3.33" stroke="#222" stroke-width="0.42"/>
<line x1="6.31" y1="-2.32" x2="7.28" y2="-4.44" stroke="#222" stroke-width="0.42"/>
<line x1="7.48" y1="-3.33" x2="9.10" y2="-3.33" stroke="#222" stroke-width="0.42"/>
</g>
<g transform="translate(74.50,302.60)">
<text x="-8.16" y="0.00" font-size="4.5" font-style="italic" stroke="#222" stroke-width="0.15" fill="#222">Mmp7</text>
<line x1="4.49" y1="-3.33" x2="6.11" y2="-3.33" stroke="#222" stroke-width="0.42"/>
<line x1="5.30" y1="-4.14" x2="5.30" y2="-2.52" stroke="#222" stroke-width="0.42"/>
<line x1="6.31" y1="-2.32" x2="7.28" y2="-4.44" stroke="#222" stroke-width="0.42"/>
<line x1="7.48" y1="-3.33" x2="9.10" y2="-3.33" stroke="#222" stroke-width="0.42"/>
<line x1="8.29" y1="-4.14" x2="8.29" y2="-2.52" stroke="#222" stroke-width="0.42"/>
</g>
<g transform="translate(92.60,302.60)">
<text x="-8.16" y="0.00" font-size="4.5" font-style="italic" stroke="#222" stroke-width="0.15" fill="#222">Mmp7</text>
<line x1="4.49" y1="-3.33" x2="6.11" y2="-3.33" stroke="#222" stroke-width="0.42"/>
<line x1="6.31" y1="-2.32" x2="7.28" y2="-4.44" stroke="#222" stroke-width="0.42"/>
<line x1="7.48" y1="-3.33" x2="9.10" y2="-3.33" stroke="#222" stroke-width="0.42"/>
</g>
<text x="41.60" y="309.60" font-size="4.5" text-anchor="middle" stroke="#222" stroke-width="0.15" fill="#222">SI faeces</text>
<text x="82.20" y="309.50" font-size="4.5" text-anchor="middle" stroke="#222" stroke-width="0.15" fill="#222">Colon faeces</text>
<rect x="105.20" y="216.50" width="2.00" height="2.00" fill="#ecec4a"/>
<text x="108.90" y="219.10" font-size="4.5" stroke="#111" stroke-width="0.15" fill="#111" textLength="13.05" lengthAdjust="spacingAndGlyphs">Others</text>
<rect x="105.20" y="224.06" width="2.00" height="2.00" fill="#444444"/>
<text x="108.90" y="226.66" font-size="4.5" stroke="#111" stroke-width="0.15" fill="#111" textLength="39.17" lengthAdjust="spacingAndGlyphs">Gemmatimonadetes</text>
<rect x="105.20" y="231.62" width="2.00" height="2.00" fill="#86c23a"/>
<text x="108.90" y="234.22" font-size="4.5" stroke="#111" stroke-width="0.15" fill="#111" textLength="30.71" lengthAdjust="spacingAndGlyphs">Melainabacteria</text>
<rect x="105.20" y="239.18" width="2.00" height="2.00" fill="#3d6be0"/>
<text x="108.90" y="241.78" font-size="4.5" stroke="#111" stroke-width="0.15" fill="#111" textLength="26.36" lengthAdjust="spacingAndGlyphs">Acidobacteria</text>
<rect x="105.20" y="246.74" width="2.00" height="2.00" fill="#e38a8a"/>
<text x="108.90" y="249.34" font-size="4.5" stroke="#111" stroke-width="0.15" fill="#111" textLength="27.57" lengthAdjust="spacingAndGlyphs">Actinobacteria</text>
<rect x="105.20" y="254.30" width="2.00" height="2.00" fill="#9fe5a9"/>
<text x="108.90" y="256.90" font-size="4.5" stroke="#111" stroke-width="0.15" fill="#111" textLength="22.73" lengthAdjust="spacingAndGlyphs">Tenericutes</text>
<rect x="105.20" y="261.86" width="2.00" height="2.00" fill="#7c5cd4"/>
<text x="108.90" y="264.46" font-size="4.5" stroke="#111" stroke-width="0.15" fill="#111" textLength="31.67" lengthAdjust="spacingAndGlyphs">Verrucomicrobia</text>
<rect x="105.20" y="269.42" width="2.00" height="2.00" fill="#f0a12c"/>
<text x="108.90" y="272.02" font-size="4.5" stroke="#111" stroke-width="0.15" fill="#111" textLength="28.29" lengthAdjust="spacingAndGlyphs">Proteobacteria</text>
<rect x="105.20" y="276.98" width="2.00" height="2.00" fill="#2fa3a3"/>
<text x="108.90" y="279.58" font-size="4.5" stroke="#111" stroke-width="0.15" fill="#111" textLength="20.06" lengthAdjust="spacingAndGlyphs">Firmicutes</text>
<rect x="105.20" y="284.54" width="2.00" height="2.00" fill="#0c0cd0"/>
<text x="108.90" y="287.14" font-size="4.5" stroke="#111" stroke-width="0.15" fill="#111" textLength="26.60" lengthAdjust="spacingAndGlyphs">Bacteroidetes</text>
<rect x="105.20" y="292.10" width="2.00" height="2.00" fill="#d42a3c"/>
<text x="108.90" y="294.70" font-size="4.5" stroke="#111" stroke-width="0.15" fill="#111" textLength="34.09" lengthAdjust="spacingAndGlyphs">Oxyphotobacteria</text>
<text x="155.60" y="200.60" font-size="6.2" font-weight="bold" stroke="#111" stroke-width="0.25" fill="#111">F</text>
<rect x="182.80" y="198.40" width="8.20" height="2.30" fill="#1616c4"/>
<g transform="translate(192.50,201.20)">
<text x="0.00" y="0.00" font-size="4.5" font-style="italic" stroke="#222" stroke-width="0.15" fill="#222">Mmp7</text>
<line x1="12.65" y1="-3.33" x2="14.27" y2="-3.33" stroke="#222" stroke-width="0.42"/>
<line x1="13.46" y1="-4.14" x2="13.46" y2="-2.52" stroke="#222" stroke-width="0.42"/>
<line x1="14.47" y1="-2.32" x2="15.44" y2="-4.44" stroke="#222" stroke-width="0.42"/>
<line x1="15.64" y1="-3.33" x2="17.26" y2="-3.33" stroke="#222" stroke-width="0.42"/>
<line x1="16.45" y1="-4.14" x2="16.45" y2="-2.52" stroke="#222" stroke-width="0.42"/>
</g>
<rect x="213.00" y="198.40" width="8.20" height="2.30" fill="#d22222"/>
<g transform="translate(222.20,201.20)">
<text x="0.00" y="0.00" font-size="4.5" font-style="italic" stroke="#222" stroke-width="0.15" fill="#222">Mmp7</text>
<line x1="12.65" y1="-3.33" x2="14.27" y2="-3.33" stroke="#222" stroke-width="0.42"/>
<line x1="14.47" y1="-2.32" x2="15.44" y2="-4.44" stroke="#222" stroke-width="0.42"/>
<line x1="15.64" y1="-3.33" x2="17.26" y2="-3.33" stroke="#222" stroke-width="0.42"/>
</g>
<rect x="206.00" y="214.80" width="42.79" height="3.67" fill="#1616c4"/>
<line x1="206.00" y1="218.47" x2="248.79" y2="218.47" stroke="#6262dc" stroke-width="0.35"/>
<text x="205.20" y="217.93" font-size="4.5" text-anchor="end" stroke="#333" stroke-width="0.05" fill="#333" textLength="27.46" lengthAdjust="spacingAndGlyphs">p_Bacteroidetes</text>
<rect x="206.00" y="218.47" width="42.79" height="3.67" fill="#1616c4"/>
<line x1="206.00" y1="222.13" x2="248.79" y2="222.13" stroke="#6262dc" stroke-width="0.35"/>
<text x="205.20" y="221.60" font-size="4.5" text-anchor="end" stroke="#333" stroke-width="0.05" fill="#333" textLength="27.25" lengthAdjust="spacingAndGlyphs">o_Bacteroidales</text>
<rect x="206.00" y="222.13" width="42.79" height="3.67" fill="#1616c4"/>
<line x1="206.00" y1="225.80" x2="248.79" y2="225.80" stroke="#6262dc" stroke-width="0.35"/>
<text x="205.20" y="225.27" font-size="4.5" text-anchor="end" stroke="#333" stroke-width="0.05" fill="#333" textLength="23.02" lengthAdjust="spacingAndGlyphs">c_Bacteroidia</text>
<rect x="206.00" y="225.80" width="42.79" height="3.67" fill="#1616c4"/>
<line x1="206.00" y1="229.47" x2="248.79" y2="229.47" stroke="#6262dc" stroke-width="0.35"/>
<text x="205.20" y="228.93" font-size="4.5" text-anchor="end" stroke="#333" stroke-width="0.05" fill="#333" textLength="30.00" lengthAdjust="spacingAndGlyphs">f_Muribaculaceae</text>
<rect x="206.00" y="229.47" width="35.49" height="3.67" fill="#1616c4"/>
<line x1="206.00" y1="233.13" x2="241.49" y2="233.13" stroke="#6262dc" stroke-width="0.35"/>
<text x="205.20" y="232.60" font-size="4.5" text-anchor="end" stroke="#333" stroke-width="0.05" fill="#333" textLength="30.84" lengthAdjust="spacingAndGlyphs">g_Faecalibaculum</text>
<rect x="206.00" y="233.13" width="35.49" height="3.67" fill="#1616c4"/>
<line x1="206.00" y1="236.80" x2="241.49" y2="236.80" stroke="#6262dc" stroke-width="0.35"/>
<text x="205.20" y="236.27" font-size="4.5" text-anchor="end" stroke="#333" stroke-width="0.05" fill="#333" textLength="34.01" lengthAdjust="spacingAndGlyphs">o_Erysipelotrichales</text>
<rect x="206.00" y="236.80" width="35.49" height="3.67" fill="#1616c4"/>
<line x1="206.00" y1="240.47" x2="241.49" y2="240.47" stroke="#6262dc" stroke-width="0.35"/>
<text x="205.20" y="239.93" font-size="4.5" text-anchor="end" stroke="#333" stroke-width="0.05" fill="#333" textLength="29.78" lengthAdjust="spacingAndGlyphs">c_Erysipelotrichia</text>
<rect x="206.00" y="240.47" width="34.96" height="3.67" fill="#1616c4"/>
<line x1="206.00" y1="244.13" x2="240.96" y2="244.13" stroke="#6262dc" stroke-width="0.35"/>
<text x="205.20" y="243.60" font-size="4.5" text-anchor="end" stroke="#333" stroke-width="0.05" fill="#333" textLength="36.33" lengthAdjust="spacingAndGlyphs">f_Erysipelotrichaceae</text>
<rect x="206.00" y="244.13" width="31.92" height="3.67" fill="#1616c4"/>
<line x1="206.00" y1="247.80" x2="237.92" y2="247.80" stroke="#6262dc" stroke-width="0.35"/>
<text x="205.20" y="247.27" font-size="4.5" text-anchor="end" stroke="#333" stroke-width="0.05" fill="#333" textLength="40.35" lengthAdjust="spacingAndGlyphs">s_Bacteroides_plebeius</text>
<rect x="170.74" y="248.10" width="35.26" height="3.75" fill="#d22222"/>
<line x1="170.74" y1="251.85" x2="206.00" y2="251.85" stroke="#d86060" stroke-width="0.35"/>
<text x="207.20" y="251.28" font-size="4.5" stroke="#333" stroke-width="0.05" fill="#333" textLength="47.72" lengthAdjust="spacingAndGlyphs">s_Akkermansia_muciniphila</text>
<rect x="170.74" y="251.85" width="35.26" height="3.75" fill="#d22222"/>
<line x1="170.74" y1="255.60" x2="206.00" y2="255.60" stroke="#d86060" stroke-width="0.35"/>
<text x="207.20" y="255.03" font-size="4.5" stroke="#333" stroke-width="0.05" fill="#333" textLength="32.31" lengthAdjust="spacingAndGlyphs">p_Verrucomicrobia</text>
<rect x="170.74" y="255.60" width="35.26" height="3.75" fill="#d22222"/>
<line x1="170.74" y1="259.35" x2="206.00" y2="259.35" stroke="#d86060" stroke-width="0.35"/>
<text x="207.20" y="258.78" font-size="4.5" stroke="#333" stroke-width="0.05" fill="#333" textLength="37.23" lengthAdjust="spacingAndGlyphs">o_Verrucomicrobiales</text>
<rect x="170.74" y="259.35" width="35.26" height="3.75" fill="#d22222"/>
<line x1="170.74" y1="263.10" x2="206.00" y2="263.10" stroke="#d86060" stroke-width="0.35"/>
<text x="207.20" y="262.53" font-size="4.5" stroke="#333" stroke-width="0.05" fill="#333" textLength="33.81" lengthAdjust="spacingAndGlyphs">f_Akkermansiaceae</text>
<rect x="170.74" y="263.10" width="35.26" height="3.75" fill="#d22222"/>
<line x1="170.74" y1="266.85" x2="206.00" y2="266.85" stroke="#d86060" stroke-width="0.35"/>
<text x="207.20" y="266.28" font-size="4.5" stroke="#333" stroke-width="0.05" fill="#333" textLength="26.53" lengthAdjust="spacingAndGlyphs">g_Akkermansia</text>
<rect x="170.74" y="266.85" width="35.26" height="3.75" fill="#d22222"/>
<line x1="170.74" y1="270.60" x2="206.00" y2="270.60" stroke="#d86060" stroke-width="0.35"/>
<text x="207.20" y="270.03" font-size="4.5" stroke="#333" stroke-width="0.05" fill="#333" textLength="34.24" lengthAdjust="spacingAndGlyphs">c_Verrucomicrobiae</text>
<line x1="159.33" y1="271.20" x2="159.33" y2="272.20" stroke="#666" stroke-width="0.45"/>
<text x="159.33" y="277.10" font-size="4.5" text-anchor="middle" stroke="#222" stroke-width="0.12" fill="#222" textLength="6.20" lengthAdjust="spacingAndGlyphs">-6.0</text>
<line x1="168.65" y1="271.20" x2="168.65" y2="272.20" stroke="#666" stroke-width="0.45"/>
<text x="168.65" y="277.10" font-size="4.5" text-anchor="middle" stroke="#222" stroke-width="0.12" fill="#222" textLength="6.20" lengthAdjust="spacingAndGlyphs">-4.8</text>
<line x1="177.98" y1="271.20" x2="177.98" y2="272.20" stroke="#666" stroke-width="0.45"/>
<text x="177.98" y="277.10" font-size="4.5" text-anchor="middle" stroke="#222" stroke-width="0.12" fill="#222" textLength="6.20" lengthAdjust="spacingAndGlyphs">-3.6</text>
<line x1="187.30" y1="271.20" x2="187.30" y2="272.20" stroke="#666" stroke-width="0.45"/>
<text x="187.30" y="277.10" font-size="4.5" text-anchor="middle" stroke="#222" stroke-width="0.12" fill="#222" textLength="6.20" lengthAdjust="spacingAndGlyphs">-2.4</text>
<line x1="196.63" y1="271.20" x2="196.63" y2="272.20" stroke="#666" stroke-width="0.45"/>
<text x="196.63" y="277.10" font-size="4.5" text-anchor="middle" stroke="#222" stroke-width="0.12" fill="#222" textLength="6.20" lengthAdjust="spacingAndGlyphs">-1.2</text>
<line x1="205.95" y1="271.20" x2="205.95" y2="272.20" stroke="#666" stroke-width="0.45"/>
<text x="205.95" y="277.10" font-size="4.5" text-anchor="middle" stroke="#222" stroke-width="0.12" fill="#222" textLength="5.00" lengthAdjust="spacingAndGlyphs">0.0</text>
<line x1="215.27" y1="271.20" x2="215.27" y2="272.20" stroke="#666" stroke-width="0.45"/>
<text x="215.27" y="277.10" font-size="4.5" text-anchor="middle" stroke="#222" stroke-width="0.12" fill="#222" textLength="5.00" lengthAdjust="spacingAndGlyphs">1.2</text>
<line x1="224.60" y1="271.20" x2="224.60" y2="272.20" stroke="#666" stroke-width="0.45"/>
<text x="224.60" y="277.10" font-size="4.5" text-anchor="middle" stroke="#222" stroke-width="0.12" fill="#222" textLength="5.00" lengthAdjust="spacingAndGlyphs">2.4</text>
<line x1="233.92" y1="271.20" x2="233.92" y2="272.20" stroke="#666" stroke-width="0.45"/>
<text x="233.92" y="277.10" font-size="4.5" text-anchor="middle" stroke="#222" stroke-width="0.12" fill="#222" textLength="5.00" lengthAdjust="spacingAndGlyphs">3.6</text>
<line x1="243.25" y1="271.20" x2="243.25" y2="272.20" stroke="#666" stroke-width="0.45"/>
<text x="243.25" y="277.10" font-size="4.5" text-anchor="middle" stroke="#222" stroke-width="0.12" fill="#222" textLength="5.00" lengthAdjust="spacingAndGlyphs">4.8</text>
<line x1="252.57" y1="271.20" x2="252.57" y2="272.20" stroke="#666" stroke-width="0.45"/>
<text x="252.57" y="277.10" font-size="4.5" text-anchor="middle" stroke="#222" stroke-width="0.12" fill="#222" textLength="5.00" lengthAdjust="spacingAndGlyphs">6.0</text>
<text x="203.20" y="283.00" font-size="4.5" text-anchor="middle" stroke="#222" stroke-width="0.15" fill="#222" textLength="34.96" lengthAdjust="spacingAndGlyphs">LDA SCORE (log 10)</text>
<text x="202.00" y="289.00" font-size="4.5" text-anchor="middle" stroke="#222" stroke-width="0.15" fill="#222">Small intestine</text>
<rect x="301.00" y="198.50" width="33.68" height="3.32" fill="#1616c4"/>
<line x1="301.00" y1="201.82" x2="334.68" y2="201.82" stroke="#6262dc" stroke-width="0.35"/>
<text x="299.80" y="201.36" font-size="4.5" text-anchor="end" fill="#444" textLength="27.60" lengthAdjust="spacingAndGlyphs">p_Bacteroidetes</text>
<rect x="301.00" y="201.82" width="33.68" height="3.32" fill="#1616c4"/>
<line x1="301.00" y1="205.14" x2="334.68" y2="205.14" stroke="#6262dc" stroke-width="0.35"/>
<text x="299.80" y="204.68" font-size="4.5" text-anchor="end" fill="#444" textLength="27.60" lengthAdjust="spacingAndGlyphs">o_Bacteroidales</text>
<rect x="301.00" y="205.14" width="33.68" height="3.32" fill="#1616c4"/>
<line x1="301.00" y1="208.46" x2="334.68" y2="208.46" stroke="#6262dc" stroke-width="0.35"/>
<text x="299.80" y="208.00" font-size="4.5" text-anchor="end" fill="#444" textLength="23.60" lengthAdjust="spacingAndGlyphs">c_Bacteroidia</text>
<rect x="301.00" y="208.46" width="32.89" height="3.32" fill="#1616c4"/>
<line x1="301.00" y1="211.78" x2="333.89" y2="211.78" stroke="#6262dc" stroke-width="0.35"/>
<text x="299.80" y="211.32" font-size="4.5" text-anchor="end" fill="#444" textLength="30.30" lengthAdjust="spacingAndGlyphs">f_Muribaculaceae</text>
<rect x="301.00" y="211.78" width="29.99" height="3.32" fill="#1616c4"/>
<line x1="301.00" y1="215.10" x2="330.99" y2="215.10" stroke="#6262dc" stroke-width="0.35"/>
<text x="299.80" y="214.64" font-size="4.5" text-anchor="end" fill="#444" textLength="41.10" lengthAdjust="spacingAndGlyphs">f_Erysipelotrichaceae</text>
<rect x="301.00" y="215.10" width="27.10" height="3.32" fill="#1616c4"/>
<line x1="301.00" y1="218.42" x2="328.10" y2="218.42" stroke="#6262dc" stroke-width="0.35"/>
<text x="299.80" y="217.96" font-size="4.5" text-anchor="end" fill="#444" textLength="43.10" lengthAdjust="spacingAndGlyphs">o_Erysipelotrichales</text>
<rect x="301.00" y="218.42" width="27.10" height="3.32" fill="#1616c4"/>
<line x1="301.00" y1="221.74" x2="328.10" y2="221.74" stroke="#6262dc" stroke-width="0.35"/>
<text x="299.80" y="221.28" font-size="4.5" text-anchor="end" fill="#444" textLength="39.80" lengthAdjust="spacingAndGlyphs">f_Anaeroplasmataceae</text>
<rect x="301.00" y="221.74" width="27.10" height="3.32" fill="#1616c4"/>
<line x1="301.00" y1="225.06" x2="328.10" y2="225.06" stroke="#6262dc" stroke-width="0.35"/>
<text x="299.80" y="224.60" font-size="4.5" text-anchor="end" fill="#444" textLength="20.20" lengthAdjust="spacingAndGlyphs">c_Mollicutes</text>
<rect x="301.00" y="225.06" width="27.10" height="3.32" fill="#1616c4"/>
<line x1="301.00" y1="228.38" x2="328.10" y2="228.38" stroke="#6262dc" stroke-width="0.35"/>
<text x="299.80" y="227.92" font-size="4.5" text-anchor="end" fill="#444" textLength="32.30" lengthAdjust="spacingAndGlyphs">f_Ruminococcaceae</text>
<rect x="301.00" y="228.38" width="27.10" height="3.32" fill="#1616c4"/>
<line x1="301.00" y1="231.70" x2="328.10" y2="231.70" stroke="#6262dc" stroke-width="0.35"/>
<text x="299.80" y="231.24" font-size="4.5" text-anchor="end" fill="#444" textLength="28.30" lengthAdjust="spacingAndGlyphs">g_Anaeroplasma</text>
<rect x="301.00" y="231.70" width="27.10" height="3.32" fill="#1616c4"/>
<line x1="301.00" y1="235.02" x2="328.10" y2="235.02" stroke="#6262dc" stroke-width="0.35"/>
<text x="299.80" y="234.56" font-size="4.5" text-anchor="end" fill="#444" textLength="25.60" lengthAdjust="spacingAndGlyphs">p_Tenericutes</text>
<rect x="301.00" y="235.02" width="27.10" height="3.32" fill="#1616c4"/>
<line x1="301.00" y1="238.34" x2="328.10" y2="238.34" stroke="#6262dc" stroke-width="0.35"/>
<text x="299.80" y="237.88" font-size="4.5" text-anchor="end" fill="#444" textLength="37.70" lengthAdjust="spacingAndGlyphs">o_Anaeroplasmatales</text>
<rect x="274.35" y="238.34" width="26.65" height="3.32" fill="#d22222"/>
<line x1="274.35" y1="241.66" x2="301.00" y2="241.66" stroke="#d86060" stroke-width="0.35"/>
<text x="302.50" y="241.20" font-size="4.5" fill="#444" textLength="32.40" lengthAdjust="spacingAndGlyphs">f_Lactobacillaceae</text>
<rect x="274.35" y="241.66" width="26.65" height="3.32" fill="#d22222"/>
<line x1="274.35" y1="244.98" x2="301.00" y2="244.98" stroke="#d86060" stroke-width="0.35"/>
<text x="302.50" y="244.52" font-size="4.5" fill="#444" textLength="24.30" lengthAdjust="spacingAndGlyphs">g_Lactobacillus</text>
<rect x="274.35" y="244.98" width="26.65" height="3.32" fill="#d22222"/>
<line x1="274.35" y1="248.30" x2="301.00" y2="248.30" stroke="#d86060" stroke-width="0.35"/>
<text x="302.50" y="247.84" font-size="4.5" fill="#444" textLength="27.30" lengthAdjust="spacingAndGlyphs">o_Lactobacillales</text>
<rect x="274.35" y="248.30" width="26.65" height="3.32" fill="#d22222"/>
<line x1="274.35" y1="251.62" x2="301.00" y2="251.62" stroke="#d86060" stroke-width="0.35"/>
<text x="302.50" y="251.16" font-size="4.5" fill="#444" textLength="11.20" lengthAdjust="spacingAndGlyphs">c_Bacilli</text>
<rect x="271.52" y="251.62" width="29.48" height="3.32" fill="#d22222"/>
<line x1="271.52" y1="254.94" x2="301.00" y2="254.94" stroke="#d86060" stroke-width="0.35"/>
<text x="302.50" y="254.48" font-size="4.5" fill="#444" textLength="24.30" lengthAdjust="spacingAndGlyphs">s_Escherichia_coli</text>
<rect x="270.10" y="254.94" width="30.90" height="3.32" fill="#d22222"/>
<line x1="270.10" y1="258.26" x2="301.00" y2="258.26" stroke="#d86060" stroke-width="0.35"/>
<text x="302.50" y="257.80" font-size="4.5" fill="#444" textLength="58.60" lengthAdjust="spacingAndGlyphs">f_unidentified_Enterobacteriaceae</text>
<rect x="270.10" y="258.26" width="30.90" height="3.32" fill="#d22222"/>
<line x1="270.10" y1="261.58" x2="301.00" y2="261.58" stroke="#d86060" stroke-width="0.35"/>
<text x="302.50" y="261.12" font-size="4.5" fill="#444" textLength="36.40" lengthAdjust="spacingAndGlyphs">f_Enterobacteriaceae</text>
<rect x="270.10" y="261.58" width="30.90" height="3.32" fill="#d22222"/>
<line x1="270.10" y1="264.90" x2="301.00" y2="264.90" stroke="#d86060" stroke-width="0.35"/>
<text x="302.50" y="264.44" font-size="4.5" fill="#444" textLength="35.40" lengthAdjust="spacingAndGlyphs">o_Enterobacteriales</text>
<rect x="270.10" y="264.90" width="30.90" height="3.32" fill="#d22222"/>
<line x1="270.10" y1="268.22" x2="301.00" y2="268.22" stroke="#d86060" stroke-width="0.35"/>
<text x="302.50" y="267.76" font-size="4.5" fill="#444" textLength="63.70" lengthAdjust="spacingAndGlyphs">g_unidentified_Gammaproteobacteria</text>
<rect x="268.40" y="268.22" width="32.60" height="3.32" fill="#d22222"/>
<line x1="268.40" y1="271.54" x2="301.00" y2="271.54" stroke="#d86060" stroke-width="0.35"/>
<text x="302.50" y="271.08" font-size="4.5" fill="#444" textLength="27.30" lengthAdjust="spacingAndGlyphs">g_Parasutterella</text>
<rect x="268.40" y="271.54" width="32.60" height="3.32" fill="#d22222"/>
<line x1="268.40" y1="274.86" x2="301.00" y2="274.86" stroke="#d86060" stroke-width="0.35"/>
<text x="302.50" y="274.40" font-size="4.5" fill="#444" textLength="31.40" lengthAdjust="spacingAndGlyphs">f_Burkholderiaceae</text>
<rect x="268.40" y="274.86" width="32.60" height="3.32" fill="#d22222"/>
<line x1="268.40" y1="278.18" x2="301.00" y2="278.18" stroke="#d86060" stroke-width="0.35"/>
<text x="302.50" y="277.72" font-size="4.5" fill="#444" textLength="47.50" lengthAdjust="spacingAndGlyphs">s_Akkermansia_muciniphila</text>
<rect x="268.40" y="278.18" width="32.60" height="3.32" fill="#d22222"/>
<line x1="268.40" y1="281.50" x2="301.00" y2="281.50" stroke="#d86060" stroke-width="0.35"/>
<text x="302.50" y="281.04" font-size="4.5" fill="#444" textLength="34.40" lengthAdjust="spacingAndGlyphs">f_Akkermansiaceae</text>
<rect x="268.40" y="281.50" width="32.60" height="3.32" fill="#d22222"/>
<line x1="268.40" y1="284.82" x2="301.00" y2="284.82" stroke="#d86060" stroke-width="0.35"/>
<text x="302.50" y="284.36" font-size="4.5" fill="#444" textLength="32.40" lengthAdjust="spacingAndGlyphs">p_Verrucomicrobia</text>
<rect x="268.40" y="284.82" width="32.60" height="3.32" fill="#d22222"/>
<line x1="268.40" y1="288.14" x2="301.00" y2="288.14" stroke="#d86060" stroke-width="0.35"/>
<text x="302.50" y="287.68" font-size="4.5" fill="#444" textLength="25.30" lengthAdjust="spacingAndGlyphs">g_Akkermansia</text>
<rect x="268.40" y="288.14" width="32.60" height="3.32" fill="#d22222"/>
<line x1="268.40" y1="291.46" x2="301.00" y2="291.46" stroke="#d86060" stroke-width="0.35"/>
<text x="302.50" y="291.00" font-size="4.5" fill="#444" textLength="37.40" lengthAdjust="spacingAndGlyphs">o_Verrucomicrobiales</text>
<rect x="268.40" y="291.46" width="32.60" height="3.32" fill="#d22222"/>
<line x1="268.40" y1="294.78" x2="301.00" y2="294.78" stroke="#d86060" stroke-width="0.35"/>
<text x="302.50" y="294.32" font-size="4.5" fill="#444" textLength="34.40" lengthAdjust="spacingAndGlyphs">c_Verrucomicrobiae</text>
<rect x="267.26" y="294.78" width="33.74" height="3.32" fill="#d22222"/>
<line x1="267.26" y1="298.10" x2="301.00" y2="298.10" stroke="#d86060" stroke-width="0.35"/>
<text x="302.50" y="297.64" font-size="4.5" fill="#444" textLength="28.30" lengthAdjust="spacingAndGlyphs">p_Proteobacteria</text>
<rect x="267.26" y="298.10" width="33.74" height="3.32" fill="#d22222"/>
<line x1="267.26" y1="301.42" x2="301.00" y2="301.42" stroke="#d86060" stroke-width="0.35"/>
<text x="302.50" y="300.96" font-size="4.5" fill="#444" textLength="41.50" lengthAdjust="spacingAndGlyphs">c_Gammaproteobacteria</text>
<line x1="262.60" y1="301.80" x2="262.60" y2="302.80" stroke="#666" stroke-width="0.45"/>
<text x="262.60" y="307.90" font-size="4.5" text-anchor="middle" stroke="#222" stroke-width="0.12" fill="#222" textLength="6.03" lengthAdjust="spacingAndGlyphs">-6.0</text>
<line x1="270.34" y1="301.80" x2="270.34" y2="302.80" stroke="#666" stroke-width="0.45"/>
<text x="270.34" y="307.90" font-size="4.5" text-anchor="middle" stroke="#222" stroke-width="0.12" fill="#222" textLength="6.03" lengthAdjust="spacingAndGlyphs">-4.8</text>
<line x1="278.08" y1="301.80" x2="278.08" y2="302.80" stroke="#666" stroke-width="0.45"/>
<text x="278.08" y="307.90" font-size="4.5" text-anchor="middle" stroke="#222" stroke-width="0.12" fill="#222" textLength="6.03" lengthAdjust="spacingAndGlyphs">-3.6</text>
<line x1="285.82" y1="301.80" x2="285.82" y2="302.80" stroke="#666" stroke-width="0.45"/>
<text x="285.82" y="307.90" font-size="4.5" text-anchor="middle" stroke="#222" stroke-width="0.12" fill="#222" textLength="6.03" lengthAdjust="spacingAndGlyphs">-2.4</text>
<line x1="293.56" y1="301.80" x2="293.56" y2="302.80" stroke="#666" stroke-width="0.45"/>
<text x="293.56" y="307.90" font-size="4.5" text-anchor="middle" stroke="#222" stroke-width="0.12" fill="#222" textLength="6.03" lengthAdjust="spacingAndGlyphs">-1.2</text>
<line x1="301.30" y1="301.80" x2="301.30" y2="302.80" stroke="#666" stroke-width="0.45"/>
<text x="301.30" y="307.90" font-size="4.5" text-anchor="middle" stroke="#222" stroke-width="0.12" fill="#222" textLength="4.87" lengthAdjust="spacingAndGlyphs">0.0</text>
<line x1="309.04" y1="301.80" x2="309.04" y2="302.80" stroke="#666" stroke-width="0.45"/>
<text x="309.04" y="307.90" font-size="4.5" text-anchor="middle" stroke="#222" stroke-width="0.12" fill="#222" textLength="4.87" lengthAdjust="spacingAndGlyphs">1.2</text>
<line x1="316.78" y1="301.80" x2="316.78" y2="302.80" stroke="#666" stroke-width="0.45"/>
<text x="316.78" y="307.90" font-size="4.5" text-anchor="middle" stroke="#222" stroke-width="0.12" fill="#222" textLength="4.87" lengthAdjust="spacingAndGlyphs">2.4</text>
<line x1="324.52" y1="301.80" x2="324.52" y2="302.80" stroke="#666" stroke-width="0.45"/>
<text x="324.52" y="307.90" font-size="4.5" text-anchor="middle" stroke="#222" stroke-width="0.12" fill="#222" textLength="4.87" lengthAdjust="spacingAndGlyphs">3.6</text>
<line x1="332.26" y1="301.80" x2="332.26" y2="302.80" stroke="#666" stroke-width="0.45"/>
<text x="332.26" y="307.90" font-size="4.5" text-anchor="middle" stroke="#222" stroke-width="0.12" fill="#222" textLength="4.87" lengthAdjust="spacingAndGlyphs">4.8</text>
<line x1="340.00" y1="301.80" x2="340.00" y2="302.80" stroke="#666" stroke-width="0.45"/>
<text x="340.00" y="307.90" font-size="4.5" text-anchor="middle" stroke="#222" stroke-width="0.12" fill="#222" textLength="4.87" lengthAdjust="spacingAndGlyphs">6.0</text>
<text x="299.90" y="313.60" font-size="4.5" text-anchor="middle" stroke="#222" stroke-width="0.15" fill="#222" textLength="32.78" lengthAdjust="spacingAndGlyphs">LDA SCORE (log 10)</text>
<text x="301.10" y="319.60" font-size="4.6" text-anchor="middle" stroke="#222" stroke-width="0.15" fill="#222">Colon</text>
<text x="3.00" y="322.70" font-size="6.2" font-weight="bold" stroke="#111" stroke-width="0.25" fill="#111">G</text>
<text x="64.40" y="325.70" font-size="4.5" text-anchor="middle" stroke="#222" stroke-width="0.15" fill="#222">Small intestine</text>
<rect x="39.9" y="329.4" width="54.3" height="47.1" fill="none" stroke="#6a6a6a" stroke-width="0.5"/>
<line x1="39.10" y1="334.70" x2="39.90" y2="334.70" stroke="#555" stroke-width="0.4"/>
<text x="38.40" y="336.80" font-size="4.5" text-anchor="end" stroke="#222" stroke-width="0.15" fill="#222" textLength="5.98" lengthAdjust="spacingAndGlyphs">0.2</text>
<line x1="39.10" y1="342.30" x2="39.90" y2="342.30" stroke="#555" stroke-width="0.4"/>
<text x="38.40" y="344.40" font-size="4.5" text-anchor="end" stroke="#222" stroke-width="0.15" fill="#222" textLength="5.98" lengthAdjust="spacingAndGlyphs">0.1</text>
<line x1="39.10" y1="349.80" x2="39.90" y2="349.80" stroke="#555" stroke-width="0.4"/>
<text x="38.40" y="351.90" font-size="4.5" text-anchor="end" stroke="#222" stroke-width="0.15" fill="#222" textLength="5.98" lengthAdjust="spacingAndGlyphs">0.0</text>
<line x1="39.10" y1="357.70" x2="39.90" y2="357.70" stroke="#555" stroke-width="0.4"/>
<text x="38.40" y="359.80" font-size="4.5" text-anchor="end" stroke="#222" stroke-width="0.15" fill="#222" textLength="7.41" lengthAdjust="spacingAndGlyphs">-0.1</text>
<line x1="39.10" y1="365.70" x2="39.90" y2="365.70" stroke="#555" stroke-width="0.4"/>
<text x="38.40" y="367.80" font-size="4.5" text-anchor="end" stroke="#222" stroke-width="0.15" fill="#222" textLength="7.41" lengthAdjust="spacingAndGlyphs">-0.2</text>
<line x1="39.10" y1="373.40" x2="39.90" y2="373.40" stroke="#555" stroke-width="0.4"/>
<text x="38.40" y="375.50" font-size="4.5" text-anchor="end" stroke="#222" stroke-width="0.15" fill="#222" textLength="7.41" lengthAdjust="spacingAndGlyphs">-0.3</text>
<line x1="48.90" y1="376.50" x2="48.90" y2="377.30" stroke="#555" stroke-width="0.4"/>
<text x="48.90" y="382.90" font-size="4.5" text-anchor="middle" stroke="#222" stroke-width="0.15" fill="#222" textLength="7.41" lengthAdjust="spacingAndGlyphs">-0.4</text>
<line x1="59.80" y1="376.50" x2="59.80" y2="377.30" stroke="#555" stroke-width="0.4"/>
<text x="59.80" y="382.90" font-size="4.5" text-anchor="middle" stroke="#222" stroke-width="0.15" fill="#222" textLength="7.41" lengthAdjust="spacingAndGlyphs">-0.2</text>
<line x1="71.10" y1="376.50" x2="71.10" y2="377.30" stroke="#555" stroke-width="0.4"/>
<text x="71.10" y="382.90" font-size="4.5" text-anchor="middle" stroke="#222" stroke-width="0.15" fill="#222" textLength="5.98" lengthAdjust="spacingAndGlyphs">0.0</text>
<line x1="82.80" y1="376.50" x2="82.80" y2="377.30" stroke="#555" stroke-width="0.4"/>
<text x="82.80" y="382.90" font-size="4.5" text-anchor="middle" stroke="#222" stroke-width="0.15" fill="#222" textLength="5.98" lengthAdjust="spacingAndGlyphs">0.2</text>
<text x="64.00" y="388.80" font-size="4.5" text-anchor="middle" stroke="#222" stroke-width="0.15" fill="#222">PCoA1 (6.01%)</text>
<text x="25.20" y="355.00" font-size="4.5" text-anchor="middle" stroke="#222" stroke-width="0.15" fill="#222" transform="rotate(-90 25.20 355.00)">PCoA2 (3.7%)</text>
<circle cx="78.10" cy="333.20" r="1.45" fill="#1a1a96"/>
<circle cx="79.40" cy="338.50" r="1.45" fill="#1a1a96"/>
<circle cx="78.10" cy="347.70" r="1.45" fill="#1a1a96"/>
<circle cx="42.30" cy="347.90" r="1.45" fill="#cc2424"/>
<circle cx="72.50" cy="364.70" r="1.45" fill="#cc2424"/>
<circle cx="77.50" cy="374.70" r="1.45" fill="#cc2424"/>
<circle cx="42.30" cy="395.70" r="1.2" fill="#1a1a96"/>
<g transform="translate(45.60,397.40)">
<text x="0.00" y="0.00" font-size="4.5" font-style="italic" stroke="#222" stroke-width="0.15" fill="#222">Mmp7</text>
<line x1="12.65" y1="-3.33" x2="14.27" y2="-3.33" stroke="#222" stroke-width="0.42"/>
<line x1="13.46" y1="-4.14" x2="13.46" y2="-2.52" stroke="#222" stroke-width="0.42"/>
<line x1="14.47" y1="-2.32" x2="15.44" y2="-4.44" stroke="#222" stroke-width="0.42"/>
<line x1="15.64" y1="-3.33" x2="17.26" y2="-3.33" stroke="#222" stroke-width="0.42"/>
<line x1="16.45" y1="-4.14" x2="16.45" y2="-2.52" stroke="#222" stroke-width="0.42"/>
</g>
<circle cx="69.20" cy="395.70" r="1.2" fill="#cc2424"/>
<g transform="translate(72.60,397.40)">
<text x="0.00" y="0.00" font-size="4.5" font-style="italic" stroke="#222" stroke-width="0.15" fill="#222">Mmp7</text>
<line x1="12.65" y1="-3.33" x2="14.27" y2="-3.33" stroke="#222" stroke-width="0.42"/>
<line x1="14.47" y1="-2.32" x2="15.44" y2="-4.44" stroke="#222" stroke-width="0.42"/>
<line x1="15.64" y1="-3.33" x2="17.26" y2="-3.33" stroke="#222" stroke-width="0.42"/>
</g>
<text x="148.90" y="325.30" font-size="4.6" text-anchor="middle" stroke="#222" stroke-width="0.15" fill="#222">Colon</text>
<rect x="127.3" y="328.9" width="52.1" height="47.3" fill="none" stroke="#6a6a6a" stroke-width="0.5"/>
<line x1="126.00" y1="329.90" x2="126.80" y2="329.90" stroke="#555" stroke-width="0.4"/>
<text x="125.40" y="331.45" font-size="4.5" text-anchor="end" stroke="#222" stroke-width="0.15" fill="#222" textLength="5.98" lengthAdjust="spacingAndGlyphs">0.4</text>
<line x1="126.00" y1="343.00" x2="126.80" y2="343.00" stroke="#555" stroke-width="0.4"/>
<text x="125.40" y="344.55" font-size="4.5" text-anchor="end" stroke="#222" stroke-width="0.15" fill="#222" textLength="5.98" lengthAdjust="spacingAndGlyphs">0.2</text>
<line x1="126.00" y1="355.90" x2="126.80" y2="355.90" stroke="#555" stroke-width="0.4"/>
<text x="125.40" y="357.45" font-size="4.5" text-anchor="end" stroke="#222" stroke-width="0.15" fill="#222" textLength="5.98" lengthAdjust="spacingAndGlyphs">0.0</text>
<line x1="126.00" y1="369.60" x2="126.80" y2="369.60" stroke="#555" stroke-width="0.4"/>
<text x="125.40" y="371.15" font-size="4.5" text-anchor="end" stroke="#222" stroke-width="0.15" fill="#222" textLength="7.41" lengthAdjust="spacingAndGlyphs">-0.2</text>
<line x1="130.50" y1="376.20" x2="130.50" y2="377.00" stroke="#555" stroke-width="0.4"/>
<text x="130.50" y="381.10" font-size="4.5" text-anchor="middle" stroke="#222" stroke-width="0.15" fill="#222" textLength="7.41" lengthAdjust="spacingAndGlyphs">-0.2</text>
<line x1="144.80" y1="376.20" x2="144.80" y2="377.00" stroke="#555" stroke-width="0.4"/>
<text x="144.80" y="381.10" font-size="4.5" text-anchor="middle" stroke="#222" stroke-width="0.15" fill="#222" textLength="5.98" lengthAdjust="spacingAndGlyphs">0.0</text>
<line x1="158.20" y1="376.20" x2="158.20" y2="377.00" stroke="#555" stroke-width="0.4"/>
<text x="158.20" y="381.10" font-size="4.5" text-anchor="middle" stroke="#222" stroke-width="0.15" fill="#222" textLength="5.98" lengthAdjust="spacingAndGlyphs">0.2</text>
<line x1="171.50" y1="376.20" x2="171.50" y2="377.00" stroke="#555" stroke-width="0.4"/>
<text x="171.50" y="381.10" font-size="4.5" text-anchor="middle" stroke="#222" stroke-width="0.15" fill="#222" textLength="5.98" lengthAdjust="spacingAndGlyphs">0.4</text>
<text x="148.90" y="388.90" font-size="4.5" text-anchor="middle" stroke="#222" stroke-width="0.15" fill="#222">PCoA1 (5.29%)</text>
<text x="115.50" y="352.30" font-size="4.5" text-anchor="middle" stroke="#222" stroke-width="0.15" fill="#222" transform="rotate(-90 115.50 352.30)">PCoA2 (4.77%)</text>
<circle cx="138.70" cy="366.60" r="1.45" fill="#1a1a96"/>
<circle cx="137.30" cy="374.40" r="1.45" fill="#1a1a96"/>
<circle cx="168.00" cy="369.80" r="1.45" fill="#1a1a96"/>
<circle cx="129.90" cy="346.10" r="1.45" fill="#cc2424"/>
<circle cx="135.00" cy="346.10" r="1.45" fill="#cc2424"/>
<circle cx="162.30" cy="335.20" r="1.45" fill="#cc2424"/>
<circle cx="126.40" cy="396.00" r="1.2" fill="#1a1a96"/>
<g transform="translate(130.00,398.00)">
<text x="0.00" y="0.00" font-size="4.5" font-style="italic" stroke="#222" stroke-width="0.15" fill="#222">Mmp7</text>
<line x1="12.65" y1="-3.33" x2="14.27" y2="-3.33" stroke="#222" stroke-width="0.42"/>
<line x1="13.46" y1="-4.14" x2="13.46" y2="-2.52" stroke="#222" stroke-width="0.42"/>
<line x1="14.47" y1="-2.32" x2="15.44" y2="-4.44" stroke="#222" stroke-width="0.42"/>
<line x1="15.64" y1="-3.33" x2="17.26" y2="-3.33" stroke="#222" stroke-width="0.42"/>
<line x1="16.45" y1="-4.14" x2="16.45" y2="-2.52" stroke="#222" stroke-width="0.42"/>
</g>
<circle cx="154.90" cy="396.00" r="1.2" fill="#cc2424"/>
<g transform="translate(158.20,398.00)">
<text x="0.00" y="0.00" font-size="4.5" font-style="italic" stroke="#222" stroke-width="0.15" fill="#222">Mmp7</text>
<line x1="12.65" y1="-3.33" x2="14.27" y2="-3.33" stroke="#222" stroke-width="0.42"/>
<line x1="14.47" y1="-2.32" x2="15.44" y2="-4.44" stroke="#222" stroke-width="0.42"/>
<line x1="15.64" y1="-3.33" x2="17.26" y2="-3.33" stroke="#222" stroke-width="0.42"/>
</g>
<text x="196.00" y="322.70" font-size="6.2" font-weight="bold" stroke="#111" stroke-width="0.25" fill="#111">H</text>
<text x="236.00" y="336.80" font-size="4.5" stroke="#222" stroke-width="0.15" fill="#222" textLength="32.04" lengthAdjust="spacingAndGlyphs">Mouse Intestinal</text>
<text x="269.26" y="336.80" font-size="4.5" font-style="italic" stroke="#222" stroke-width="0.15" fill="#222" textLength="23.24" lengthAdjust="spacingAndGlyphs">Bacteroides</text>
<text x="292.50" y="336.80" font-size="4.5" stroke="#222" stroke-width="0.15" fill="#222" textLength="12.96" lengthAdjust="spacingAndGlyphs">-Colon</text>
<line x1="221.60" y1="337.90" x2="221.60" y2="378.20" stroke="#222" stroke-width="0.5"/>
<line x1="220.70" y1="378.20" x2="221.60" y2="378.20" stroke="#222" stroke-width="0.4"/>
<text x="220.60" y="379.75" font-size="4.5" text-anchor="end" stroke="#222" stroke-width="0.15" fill="#222" textLength="2.39" lengthAdjust="spacingAndGlyphs">2</text>
<line x1="220.70" y1="372.44" x2="221.60" y2="372.44" stroke="#222" stroke-width="0.4"/>
<text x="220.60" y="373.99" font-size="4.5" text-anchor="end" stroke="#222" stroke-width="0.15" fill="#222" textLength="2.39" lengthAdjust="spacingAndGlyphs">3</text>
<line x1="220.70" y1="366.69" x2="221.60" y2="366.69" stroke="#222" stroke-width="0.4"/>
<text x="220.60" y="368.24" font-size="4.5" text-anchor="end" stroke="#222" stroke-width="0.15" fill="#222" textLength="2.39" lengthAdjust="spacingAndGlyphs">4</text>
<line x1="220.70" y1="360.93" x2="221.60" y2="360.93" stroke="#222" stroke-width="0.4"/>
<text x="220.60" y="362.48" font-size="4.5" text-anchor="end" stroke="#222" stroke-width="0.15" fill="#222" textLength="2.39" lengthAdjust="spacingAndGlyphs">5</text>
<line x1="220.70" y1="355.17" x2="221.60" y2="355.17" stroke="#222" stroke-width="0.4"/>
<text x="220.60" y="356.72" font-size="4.5" text-anchor="end" stroke="#222" stroke-width="0.15" fill="#222" textLength="2.39" lengthAdjust="spacingAndGlyphs">6</text>
<line x1="220.70" y1="349.41" x2="221.60" y2="349.41" stroke="#222" stroke-width="0.4"/>
<text x="220.60" y="350.96" font-size="4.5" text-anchor="end" stroke="#222" stroke-width="0.15" fill="#222" textLength="2.39" lengthAdjust="spacingAndGlyphs">7</text>
<line x1="220.70" y1="343.66" x2="221.60" y2="343.66" stroke="#222" stroke-width="0.4"/>
<text x="220.60" y="345.21" font-size="4.5" text-anchor="end" stroke="#222" stroke-width="0.15" fill="#222" textLength="2.39" lengthAdjust="spacingAndGlyphs">8</text>
<line x1="220.70" y1="337.90" x2="221.60" y2="337.90" stroke="#222" stroke-width="0.4"/>
<text x="220.60" y="339.45" font-size="4.5" text-anchor="end" stroke="#222" stroke-width="0.15" fill="#222" textLength="2.39" lengthAdjust="spacingAndGlyphs">9</text>
<text x="214.30" y="360.00" font-size="4.5" text-anchor="middle" stroke="#222" stroke-width="0.15" fill="#222" transform="rotate(-90 214.30 360.00)" textLength="62.14" lengthAdjust="spacingAndGlyphs">Log10 16S/DNA copies (per mg)</text>
<line x1="221.60" y1="378.20" x2="314.00" y2="378.20" stroke="#222" stroke-width="0.5"/>
<line x1="227.60" y1="378.20" x2="227.60" y2="379.20" stroke="#222" stroke-width="0.4"/>
<text x="227.60" y="383.60" font-size="4.5" text-anchor="middle" stroke="#222" stroke-width="0.15" fill="#222" textLength="2.45" lengthAdjust="spacingAndGlyphs">1</text>
<line x1="239.60" y1="378.20" x2="239.60" y2="379.20" stroke="#222" stroke-width="0.4"/>
<text x="239.60" y="383.60" font-size="4.5" text-anchor="middle" stroke="#222" stroke-width="0.15" fill="#222" textLength="2.45" lengthAdjust="spacingAndGlyphs">2</text>
<line x1="251.40" y1="378.20" x2="251.40" y2="379.20" stroke="#222" stroke-width="0.4"/>
<text x="251.40" y="383.60" font-size="4.5" text-anchor="middle" stroke="#222" stroke-width="0.15" fill="#222" textLength="2.45" lengthAdjust="spacingAndGlyphs">3</text>
<line x1="263.00" y1="378.20" x2="263.00" y2="379.20" stroke="#222" stroke-width="0.4"/>
<text x="263.00" y="383.60" font-size="4.5" text-anchor="middle" stroke="#222" stroke-width="0.15" fill="#222" textLength="2.45" lengthAdjust="spacingAndGlyphs">4</text>
<line x1="275.00" y1="378.20" x2="275.00" y2="379.20" stroke="#222" stroke-width="0.4"/>
<text x="275.00" y="383.60" font-size="4.5" text-anchor="middle" stroke="#222" stroke-width="0.15" fill="#222" textLength="2.45" lengthAdjust="spacingAndGlyphs">5</text>
<line x1="287.00" y1="378.20" x2="287.00" y2="379.20" stroke="#222" stroke-width="0.4"/>
<text x="287.00" y="383.60" font-size="4.5" text-anchor="middle" stroke="#222" stroke-width="0.15" fill="#222" textLength="2.45" lengthAdjust="spacingAndGlyphs">6</text>
<line x1="298.50" y1="378.20" x2="298.50" y2="379.20" stroke="#222" stroke-width="0.4"/>
<text x="298.50" y="383.60" font-size="4.5" text-anchor="middle" stroke="#222" stroke-width="0.15" fill="#222" textLength="2.45" lengthAdjust="spacingAndGlyphs">7</text>
<line x1="310.50" y1="378.20" x2="310.50" y2="379.20" stroke="#222" stroke-width="0.4"/>
<text x="310.50" y="383.60" font-size="4.5" text-anchor="middle" stroke="#222" stroke-width="0.15" fill="#222" textLength="2.45" lengthAdjust="spacingAndGlyphs">8</text>
<text x="319.70" y="383.90" font-size="4.5" stroke="#222" stroke-width="0.15" fill="#222">(Day)</text>
<polygon points="227.6,371.6 239.6,368.2 251.4,372.6 263,373.6 275,370.6 287,368.7 298.5,363.8 310.5,354.90000000000003 310.5,357.70000000000005 298.5,366.6 287,371.5 275,373.40000000000003 263,376.40000000000003 251.4,375.40000000000003 239.6,371.0 227.6,374.40000000000003" fill="#b6e8b0"/>
<line x1="275.00" y1="352.60" x2="275.00" y2="361.80" stroke="#333" stroke-width="0.45"/>
<line x1="274.20" y1="352.60" x2="275.80" y2="352.60" stroke="#333" stroke-width="0.4"/>
<line x1="274.20" y1="361.80" x2="275.80" y2="361.80" stroke="#333" stroke-width="0.4"/>
<line x1="287.00" y1="344.60" x2="287.00" y2="355.40" stroke="#333" stroke-width="0.45"/>
<line x1="286.20" y1="344.60" x2="287.80" y2="344.60" stroke="#333" stroke-width="0.4"/>
<line x1="286.20" y1="355.40" x2="287.80" y2="355.40" stroke="#333" stroke-width="0.4"/>
<line x1="298.50" y1="346.60" x2="298.50" y2="351.60" stroke="#333" stroke-width="0.45"/>
<line x1="297.70" y1="346.60" x2="299.30" y2="346.60" stroke="#333" stroke-width="0.4"/>
<line x1="297.70" y1="351.60" x2="299.30" y2="351.60" stroke="#333" stroke-width="0.4"/>
<line x1="287.00" y1="367.90" x2="287.00" y2="370.90" stroke="#d8332f" stroke-width="0.45"/>
<line x1="298.50" y1="367.00" x2="298.50" y2="370.00" stroke="#d8332f" stroke-width="0.45"/>
<line x1="310.50" y1="360.00" x2="310.50" y2="364.00" stroke="#d8332f" stroke-width="0.45"/>
<line x1="310.50" y1="354.40" x2="310.50" y2="357.60" stroke="#45c24a" stroke-width="0.45"/>
<polyline points="227.60,372.80 239.60,374.20 251.40,376.20 263.00,376.80 275.00,373.10 287.00,370.40 298.50,369.00 310.50,361.80" fill="none" stroke="#d8332f" stroke-width="0.7"/>
<polyline points="227.60,372.80 239.60,369.40 251.40,373.80 263.00,374.80 275.00,371.80 287.00,369.90 298.50,365.00 310.50,356.10" fill="none" stroke="#45c24a" stroke-width="0.7"/>
<polyline points="227.60,372.80 239.60,367.40 251.40,375.60 263.00,366.80 275.00,357.20 287.00,347.50 298.50,348.90 310.50,341.30" fill="none" stroke="#222" stroke-width="0.6"/>
<circle cx="227.60" cy="372.80" r="0.9" fill="#333"/>
<circle cx="239.60" cy="367.40" r="0.9" fill="#333"/>
<circle cx="251.40" cy="375.60" r="0.9" fill="#333"/>
<circle cx="263.00" cy="366.80" r="0.9" fill="#333"/>
<circle cx="275.00" cy="357.20" r="0.9" fill="#333"/>
<circle cx="287.00" cy="347.50" r="0.9" fill="#333"/>
<circle cx="298.50" cy="348.90" r="0.9" fill="#333"/>
<circle cx="310.50" cy="341.30" r="0.9" fill="#333"/>
<circle cx="227.60" cy="372.80" r="0.8" fill="#45c24a"/>
<circle cx="239.60" cy="369.40" r="0.8" fill="#45c24a"/>
<circle cx="251.40" cy="373.80" r="0.8" fill="#45c24a"/>
<circle cx="263.00" cy="374.80" r="0.8" fill="#45c24a"/>
<circle cx="275.00" cy="371.80" r="0.8" fill="#45c24a"/>
<circle cx="287.00" cy="369.90" r="0.8" fill="#45c24a"/>
<circle cx="298.50" cy="365.00" r="0.8" fill="#45c24a"/>
<circle cx="310.50" cy="356.10" r="0.8" fill="#45c24a"/>
<circle cx="227.60" cy="372.80" r="0.7" fill="#d8332f"/>
<circle cx="239.60" cy="374.20" r="0.7" fill="#d8332f"/>
<circle cx="251.40" cy="376.20" r="0.7" fill="#d8332f"/>
<circle cx="263.00" cy="376.80" r="0.7" fill="#d8332f"/>
<circle cx="275.00" cy="373.10" r="0.7" fill="#d8332f"/>
<circle cx="287.00" cy="370.40" r="0.7" fill="#d8332f"/>
<circle cx="298.50" cy="369.00" r="0.7" fill="#d8332f"/>
<circle cx="310.50" cy="361.80" r="0.7" fill="#d8332f"/>
<text x="275.00" y="354.60" font-size="4.8" text-anchor="middle" font-weight="bold" fill="#111">*</text>
<text x="287.00" y="344.30" font-size="4.8" text-anchor="middle" font-weight="bold" fill="#111">*</text>
<text x="298.50" y="347.00" font-size="4.8" text-anchor="middle" font-weight="bold" fill="#111">*</text>
<line x1="316.60" y1="341.00" x2="321.40" y2="341.00" stroke="#8fd48f" stroke-width="0.6"/>
<g transform="translate(324.60,342.50)">
<text x="0.00" y="0.00" font-size="4.5" font-style="italic" stroke="#222" stroke-width="0.15" fill="#222" textLength="12.22" lengthAdjust="spacingAndGlyphs">Mmp7</text>
<line x1="12.37" y1="-3.26" x2="13.96" y2="-3.26" stroke="#222" stroke-width="0.42"/>
<line x1="14.16" y1="-2.26" x2="15.11" y2="-4.35" stroke="#222" stroke-width="0.42"/>
<line x1="15.31" y1="-3.26" x2="16.89" y2="-3.26" stroke="#222" stroke-width="0.42"/>
<text x="17.66" y="0.00" font-size="4.5" stroke="#222" stroke-width="0.15" fill="#222" textLength="26.32" lengthAdjust="spacingAndGlyphs">+ amino acids</text>
</g>
<line x1="316.60" y1="348.00" x2="321.40" y2="348.00" stroke="#777" stroke-width="0.6"/>
<g transform="translate(324.60,349.50)">
<text x="0.00" y="0.00" font-size="4.5" font-style="italic" stroke="#222" stroke-width="0.15" fill="#222" textLength="12.22" lengthAdjust="spacingAndGlyphs">Mmp7</text>
<line x1="12.37" y1="-3.26" x2="13.96" y2="-3.26" stroke="#222" stroke-width="0.42"/>
<line x1="14.16" y1="-2.26" x2="15.11" y2="-4.35" stroke="#222" stroke-width="0.42"/>
<line x1="15.31" y1="-3.26" x2="16.89" y2="-3.26" stroke="#222" stroke-width="0.42"/>
<text x="17.66" y="0.00" font-size="4.5" stroke="#222" stroke-width="0.15" fill="#222" textLength="27.12" lengthAdjust="spacingAndGlyphs">+ α-defensin 5</text>
</g>
<line x1="316.60" y1="354.70" x2="321.40" y2="354.70" stroke="#ef8f8f" stroke-width="0.6"/>
<g transform="translate(324.60,356.20)">
<text x="0.00" y="0.00" font-size="4.5" font-style="italic" stroke="#222" stroke-width="0.15" fill="#222" textLength="12.22" lengthAdjust="spacingAndGlyphs">Mmp7</text>
<line x1="12.37" y1="-3.26" x2="13.96" y2="-3.26" stroke="#222" stroke-width="0.42"/>
<line x1="14.16" y1="-2.26" x2="15.11" y2="-4.35" stroke="#222" stroke-width="0.42"/>
<line x1="15.31" y1="-3.26" x2="16.89" y2="-3.26" stroke="#222" stroke-width="0.42"/>
</g>
</svg></body></html>
